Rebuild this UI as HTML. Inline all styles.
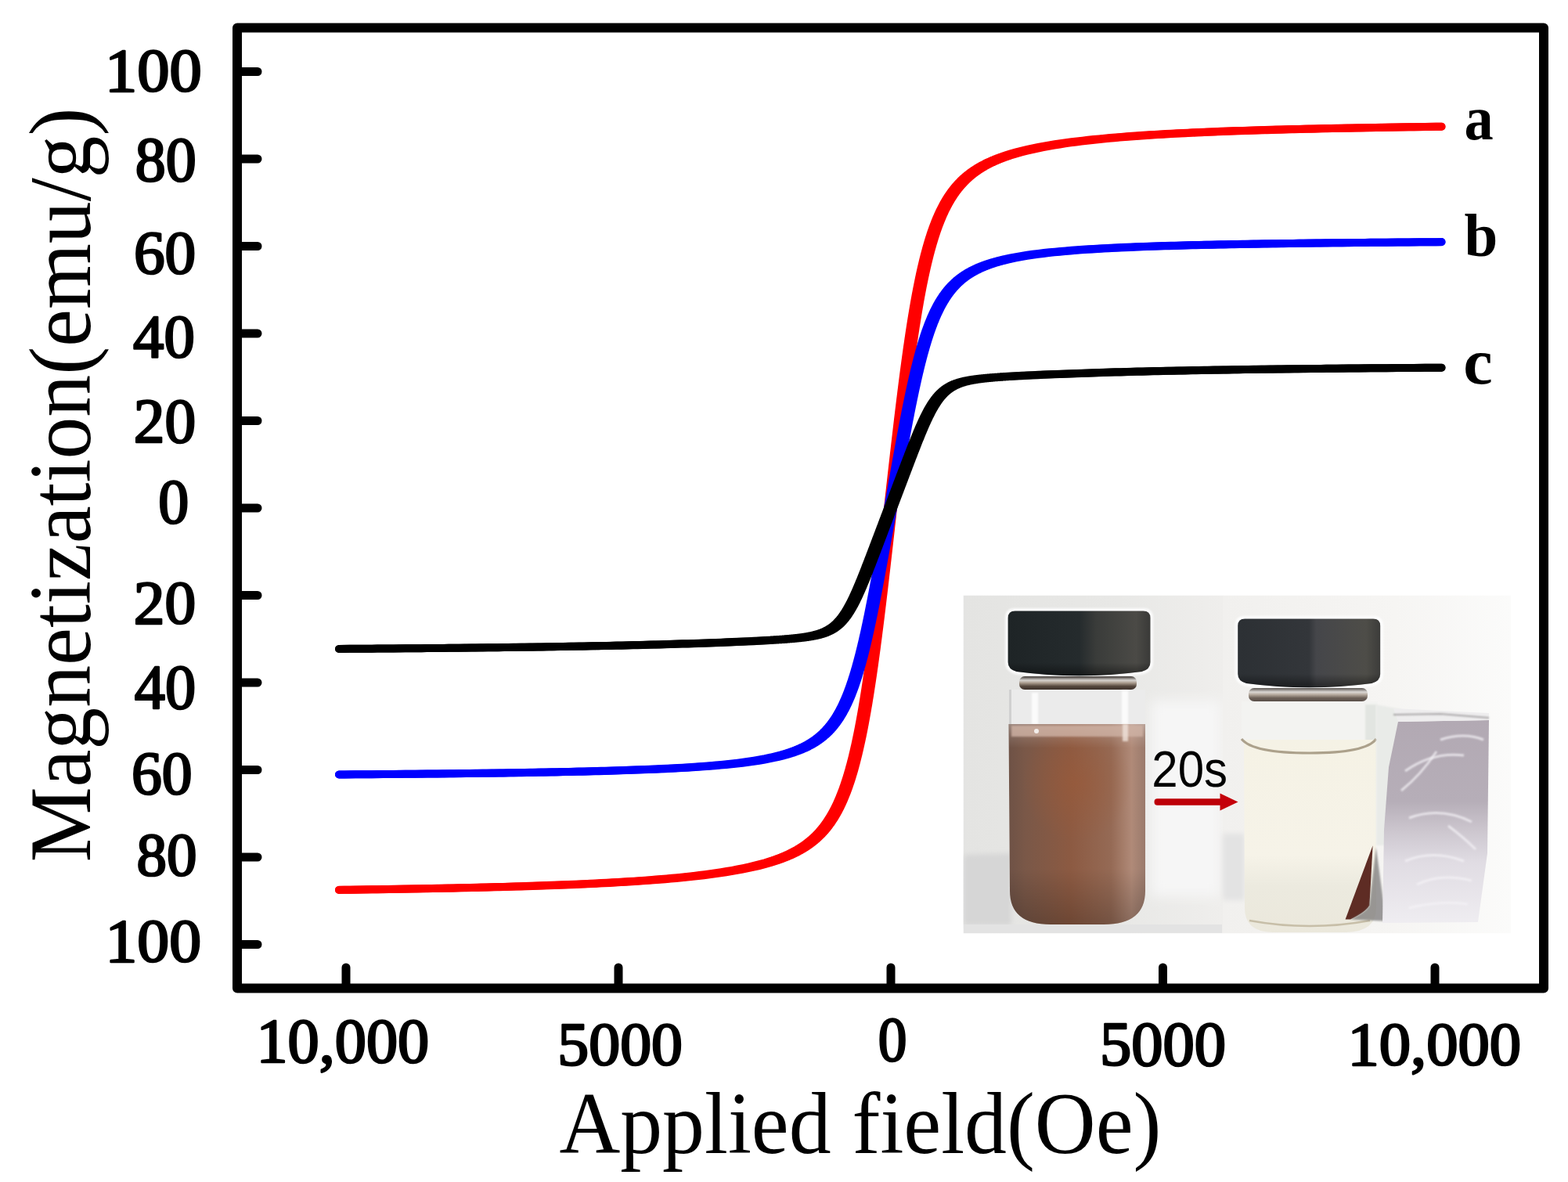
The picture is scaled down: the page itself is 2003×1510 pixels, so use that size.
<!DOCTYPE html><html><head><meta charset="utf-8"><title>Magnetization curves</title><style>html,body{margin:0;padding:0;background:#fff;}svg{display:block}</style></head><body>
<svg width="2003" height="1510" viewBox="0 0 2003 1510">
<defs>
<filter id="bl1" x="-50%" y="-50%" width="200%" height="200%"><feGaussianBlur stdDeviation="1.2"/></filter>
<filter id="bl2" x="-50%" y="-50%" width="200%" height="200%"><feGaussianBlur stdDeviation="3"/></filter>
<filter id="bl6" x="-50%" y="-50%" width="200%" height="200%"><feGaussianBlur stdDeviation="8"/></filter>
<linearGradient id="bgL" x1="0" y1="0" x2="1" y2="0">
 <stop offset="0" stop-color="#e4e4e2"/><stop offset="0.6" stop-color="#e8e8e6"/><stop offset="1" stop-color="#efeeec"/></linearGradient>
<linearGradient id="bgR" x1="0" y1="0" x2="1" y2="0">
 <stop offset="0" stop-color="#f1f0ee"/><stop offset="0.6" stop-color="#f6f5f3"/><stop offset="1" stop-color="#fbfbfa"/></linearGradient>
<linearGradient id="cap1" x1="0" y1="0" x2="1" y2="0">
 <stop offset="0" stop-color="#1e2426"/><stop offset="0.5" stop-color="#252b2d"/><stop offset="0.62" stop-color="#3a3c3a"/><stop offset="0.9" stop-color="#4b4a46"/><stop offset="1" stop-color="#3a3a38"/></linearGradient>
<linearGradient id="cap2" x1="0" y1="0" x2="1" y2="0">
 <stop offset="0" stop-color="#2c3034"/><stop offset="0.5" stop-color="#33363a"/><stop offset="0.55" stop-color="#45464a"/><stop offset="0.9" stop-color="#4e4d48"/><stop offset="1" stop-color="#3c3c3a"/></linearGradient>
<linearGradient id="capV" x1="0" y1="0" x2="0" y2="1">
 <stop offset="0" stop-color="#000" stop-opacity="0"/><stop offset="0.8" stop-color="#000" stop-opacity="0"/><stop offset="1" stop-color="#000" stop-opacity="0.45"/></linearGradient>
<linearGradient id="liqH" x1="0" y1="0" x2="1" y2="0">
 <stop offset="0" stop-color="#6e5246"/><stop offset="0.12" stop-color="#7a5848"/><stop offset="0.45" stop-color="#8c5a42"/><stop offset="0.75" stop-color="#956a55"/><stop offset="0.9" stop-color="#b08a78"/><stop offset="1" stop-color="#9a7a6c"/></linearGradient>
<linearGradient id="liqV" x1="0" y1="0" x2="0" y2="1">
 <stop offset="0" stop-color="#fff" stop-opacity="0.3"/><stop offset="0.06" stop-color="#fff" stop-opacity="0.12"/><stop offset="0.12" stop-color="#fff" stop-opacity="0"/><stop offset="0.72" stop-color="#000" stop-opacity="0"/><stop offset="1" stop-color="#000" stop-opacity="0.22"/></linearGradient>
<radialGradient id="liqO" cx="0.5" cy="0.5" r="0.5">
 <stop offset="0" stop-color="#9c5a38" stop-opacity="0.55"/><stop offset="1" stop-color="#9c5a38" stop-opacity="0"/></radialGradient>
<linearGradient id="liq2" x1="0" y1="0" x2="0" y2="1">
 <stop offset="0" stop-color="#f5f2e5"/><stop offset="0.6" stop-color="#f6f3e8"/><stop offset="0.76" stop-color="#eceadf"/><stop offset="1" stop-color="#ebe8dc"/></linearGradient>
<linearGradient id="foil" x1="0" y1="0" x2="0" y2="1">
 <stop offset="0" stop-color="#b2a9b3"/><stop offset="0.4" stop-color="#b6aeb8"/><stop offset="0.55" stop-color="#cdc7cf"/><stop offset="0.7" stop-color="#e0dce3"/><stop offset="1" stop-color="#efedf1"/></linearGradient>
<linearGradient id="ring" x1="0" y1="0" x2="0" y2="1">
 <stop offset="0" stop-color="#3a3430"/><stop offset="0.3" stop-color="#d8d4d0"/><stop offset="0.5" stop-color="#a89a8c"/><stop offset="0.75" stop-color="#54463c"/><stop offset="1" stop-color="#3e322c"/></linearGradient>
</defs>
<clipPath id="phc"><rect x="1230.5" y="760.5" width="700" height="432"/></clipPath>
<g id="photo" clip-path="url(#phc)">
<rect x="1230.5" y="760.5" width="332" height="432" fill="url(#bgL)"/>
<rect x="1470" y="895" width="90" height="250" fill="#f6f6f6" filter="url(#bl6)"/>
<path d="M1231 1092 L1292 1090 L1292 1182 L1231 1182 Z" fill="#d6d6d6" filter="url(#bl2)"/>
<rect x="1231" y="1181" width="330" height="11" fill="#e3e3e3"/>
<rect x="1562" y="760.5" width="368" height="432" fill="url(#bgR)"/>
<rect x="1562" y="1065" width="28" height="85" fill="#e3e3e3" filter="url(#bl2)"/>
<path d="M1287.6 789.6 Q1287.6 780.6 1296.6 780.6 L1460.5 780.6 Q1469.5 780.6 1469.5 789.6 L1469.5 846 Q1469.5 855 1458.5 858 Q1378.55 868.5 1298.6 858 Q1287.6 855 1287.6 846 Z" fill="#fcfcfc" stroke="#fcfcfc" stroke-width="7" filter="url(#bl1)"/>
<path d="M1287.6 789.6 Q1287.6 780.6 1296.6 780.6 L1460.5 780.6 Q1469.5 780.6 1469.5 789.6 L1469.5 846 Q1469.5 855 1458.5 858 Q1378.55 868.5 1298.6 858 Q1287.6 855 1287.6 846 Z" fill="url(#cap1)"/>
<path d="M1287.6 789.6 Q1287.6 780.6 1296.6 780.6 L1460.5 780.6 Q1469.5 780.6 1469.5 789.6 L1469.5 846 Q1469.5 855 1458.5 858 Q1378.55 868.5 1298.6 858 Q1287.6 855 1287.6 846 Z" fill="url(#capV)"/>
<rect x="1302" y="864" width="150" height="17" rx="7" fill="url(#ring)"/>
<rect x="1289" y="881" width="174" height="46" fill="#ebebeb"/>
<rect x="1289" y="881" width="3" height="46" fill="#d0d0d0"/>
<rect x="1318" y="885" width="8" height="40" fill="#fbfbfb" filter="url(#bl1)"/>
<rect x="1433" y="882" width="8" height="45" fill="#fbfbfb" filter="url(#bl1)"/>
<path d="M1288.5 925 L1463 925 L1463 1138 Q1463 1181 1410 1181 L1342 1181 Q1290 1181 1290 1138 Z" fill="url(#liqH)"/>
<ellipse cx="1375" cy="1000" rx="70" ry="75" fill="url(#liqO)"/>
<path d="M1288.5 925 L1463 925 L1463 1138 Q1463 1181 1410 1181 L1342 1181 Q1290 1181 1290 1138 Z" fill="url(#liqV)"/>
<rect x="1292" y="927" width="168" height="14" fill="#cfb2a4" opacity="0.8" filter="url(#bl1)"/>
<rect x="1434" y="925" width="7" height="22" fill="#efe2da" opacity="0.8" filter="url(#bl1)"/>
<circle cx="1324" cy="934" r="3" fill="#fff" opacity="0.8"/>
<text transform="translate(1471.30 1004.90) scale(0.9290 1)" font-family="Liberation Sans, sans-serif" font-weight="normal" font-size="64.61" fill="#000" >20s</text>
<rect x="1474.5" y="1020.3" width="88" height="8.4" rx="4" fill="#bd0008"/>
<path d="M1558.5 1013.5 L1581.5 1024.5 L1558.5 1035.5 Z" fill="#c4000a"/>
<path d="M1581.2 799.6 Q1581.2 790.6 1590.2 790.6 L1754.2 790.6 Q1763.2 790.6 1763.2 799.6 L1763.2 861 Q1763.2 870 1752.2 873 Q1672.2 883.5 1592.2 873 Q1581.2 870 1581.2 861 Z" fill="#ffffff" stroke="#ffffff" stroke-width="7" filter="url(#bl1)"/>
<path d="M1581.2 799.6 Q1581.2 790.6 1590.2 790.6 L1754.2 790.6 Q1763.2 790.6 1763.2 799.6 L1763.2 861 Q1763.2 870 1752.2 873 Q1672.2 883.5 1592.2 873 Q1581.2 870 1581.2 861 Z" fill="url(#cap2)"/>
<path d="M1581.2 799.6 Q1581.2 790.6 1590.2 790.6 L1754.2 790.6 Q1763.2 790.6 1763.2 799.6 L1763.2 861 Q1763.2 870 1752.2 873 Q1672.2 883.5 1592.2 873 Q1581.2 870 1581.2 861 Z" fill="url(#capV)"/>
<rect x="1595" y="879" width="152" height="17" rx="7" fill="url(#ring)" opacity="0.85"/>
<rect x="1586" y="896" width="174" height="50" fill="#f3f3f1"/>
<rect x="1744" y="900" width="14" height="48" fill="#e2e5e1" filter="url(#bl1)"/>
<path d="M1589 945 L1758 945 L1758 1160 Q1758 1190 1720 1191 L1625 1191 Q1590 1190 1590 1160 Z" fill="url(#liq2)"/>
<path d="M1586 944 Q1600 962 1673 962 Q1745 962 1758 944" fill="none" stroke="#9a8c74" stroke-width="3" opacity="0.8"/>
<path d="M1596 1176 Q1673 1190 1750 1176" fill="none" stroke="#b8ad92" stroke-width="2.5" opacity="0.7"/>
<path d="M1753.6 1080.3 Q1735 1130 1718.6 1174.6 L1725 1174.6 Q1745 1165 1749.4 1156.6 Z" fill="#5e2c24"/>
<path d="M1757.8 1082.4 L1749.4 1156.6 Q1745 1165 1725 1174.6 L1770.6 1176.8 Z" fill="#7c7a7a" opacity="0.75" filter="url(#bl1)"/>
<path d="M1758 900 L1790 906 L1786 1080 L1758 1080 Z" fill="#e9ebe8" filter="url(#bl1)"/>
<path d="M1786 922 L1902 920 L1900 1090 L1888 1178 L1766 1179 L1768 1060 L1774 980 Z" fill="url(#foil)"/>
<path d="M1780 905 L1902 911 L1902 920 L1786 922 Z" fill="#eeedee"/>
<path d="M1795 985 Q1830 960 1870 965" fill="none" stroke="#f4f2f6" stroke-width="3" opacity="0.75" filter="url(#bl1)"/>
<path d="M1790 1010 Q1815 990 1835 960" fill="none" stroke="#f4f2f6" stroke-width="3" opacity="0.75" filter="url(#bl1)"/>
<path d="M1800 1045 Q1840 1030 1880 1050" fill="none" stroke="#f4f2f6" stroke-width="3" opacity="0.75" filter="url(#bl1)"/>
<path d="M1850 1055 Q1870 1070 1885 1085" fill="none" stroke="#f4f2f6" stroke-width="3" opacity="0.75" filter="url(#bl1)"/>
<path d="M1795 1100 Q1830 1085 1870 1100" fill="none" stroke="#f4f2f6" stroke-width="3" opacity="0.75" filter="url(#bl1)"/>
<path d="M1810 1130 Q1840 1115 1880 1125" fill="none" stroke="#f4f2f6" stroke-width="3" opacity="0.75" filter="url(#bl1)"/>
<path d="M1800 1160 Q1840 1150 1875 1155" fill="none" stroke="#f4f2f6" stroke-width="3" opacity="0.75" filter="url(#bl1)"/>
<path d="M1840 945 Q1870 935 1895 945" fill="none" stroke="#f4f2f6" stroke-width="3" opacity="0.75" filter="url(#bl1)"/>
<path d="M1780 913 L1840 912 L1902 917" fill="none" stroke="#7a7678" stroke-width="2.2" opacity="0.6" filter="url(#bl1)"/>
</g>
<path d="M433.00 1136.83 L439.97 1136.74 L446.95 1136.64 L453.92 1136.55 L460.90 1136.45 L467.87 1136.35 L474.85 1136.25 L481.82 1136.15 L488.80 1136.04 L495.77 1135.93 L502.75 1135.82 L509.72 1135.71 L516.70 1135.59 L523.67 1135.47 L530.65 1135.35 L537.62 1135.22 L544.59 1135.09 L551.57 1134.96 L558.54 1134.83 L565.52 1134.69 L572.49 1134.54 L579.47 1134.40 L586.44 1134.25 L593.42 1134.09 L600.39 1133.93 L607.37 1133.77 L614.34 1133.60 L621.32 1133.43 L628.29 1133.25 L635.27 1133.07 L642.24 1132.88 L649.22 1132.68 L656.19 1132.48 L663.16 1132.27 L670.14 1132.06 L677.11 1131.83 L684.09 1131.60 L691.06 1131.37 L698.04 1131.12 L705.01 1130.87 L711.99 1130.61 L718.96 1130.33 L725.94 1130.05 L732.91 1129.76 L739.89 1129.45 L746.86 1129.14 L753.84 1128.81 L760.81 1128.47 L767.78 1128.11 L774.76 1127.74 L781.73 1127.36 L788.71 1126.96 L795.68 1126.54 L802.66 1126.10 L809.63 1125.65 L816.61 1125.17 L823.58 1124.67 L830.56 1124.15 L837.53 1123.60 L844.51 1123.02 L851.48 1122.42 L858.46 1121.78 L865.43 1121.11 L872.41 1120.41 L879.38 1119.66 L886.35 1118.88 L893.33 1118.04 L900.30 1117.16 L907.28 1116.23 L914.25 1115.23 L921.23 1114.17 L928.20 1113.04 L935.18 1111.82 L942.15 1110.52 L949.13 1109.11 L956.10 1107.60 L963.08 1105.95 L970.05 1104.15 L977.03 1102.19 L984.00 1100.02 L984.50 1099.86 L985.00 1099.70 L985.50 1099.53 L986.00 1099.36 L986.50 1099.19 L987.00 1099.02 L987.50 1098.85 L988.00 1098.68 L988.50 1098.51 L989.00 1098.33 L989.50 1098.15 L990.00 1097.98 L990.50 1097.80 L991.00 1097.62 L991.50 1097.44 L992.00 1097.25 L992.50 1097.07 L993.00 1096.88 L993.50 1096.69 L994.00 1096.50 L994.50 1096.31 L995.00 1096.12 L995.50 1095.93 L996.00 1095.73 L996.50 1095.53 L997.00 1095.34 L997.50 1095.14 L998.00 1094.93 L998.50 1094.73 L999.00 1094.52 L999.50 1094.32 L1000.00 1094.11 L1000.50 1093.90 L1001.00 1093.69 L1001.50 1093.47 L1002.00 1093.26 L1002.50 1093.04 L1003.00 1092.82 L1003.50 1092.60 L1004.00 1092.37 L1004.50 1092.15 L1005.00 1091.92 L1005.50 1091.69 L1006.00 1091.46 L1006.50 1091.22 L1007.00 1090.99 L1007.50 1090.75 L1008.00 1090.51 L1008.50 1090.27 L1009.00 1090.02 L1009.50 1089.78 L1010.00 1089.53 L1010.50 1089.27 L1011.00 1089.02 L1011.50 1088.76 L1012.00 1088.50 L1012.50 1088.24 L1013.00 1087.98 L1013.50 1087.71 L1014.00 1087.44 L1014.50 1087.17 L1015.00 1086.90 L1015.50 1086.62 L1016.00 1086.34 L1016.50 1086.06 L1017.00 1085.77 L1017.50 1085.49 L1018.00 1085.20 L1018.50 1084.90 L1019.00 1084.60 L1019.50 1084.30 L1020.00 1084.00 L1020.50 1083.69 L1021.00 1083.39 L1021.50 1083.07 L1022.00 1082.76 L1022.50 1082.44 L1023.00 1082.11 L1023.50 1081.79 L1024.00 1081.46 L1024.50 1081.13 L1025.00 1080.79 L1025.50 1080.45 L1026.00 1080.10 L1026.50 1079.76 L1027.00 1079.41 L1027.50 1079.05 L1028.00 1078.69 L1028.50 1078.33 L1029.00 1077.96 L1029.50 1077.59 L1030.00 1077.21 L1030.50 1076.83 L1031.00 1076.45 L1031.50 1076.06 L1032.00 1075.66 L1032.50 1075.26 L1033.00 1074.86 L1033.50 1074.45 L1034.00 1074.04 L1034.50 1073.62 L1035.00 1073.20 L1035.50 1072.77 L1036.00 1072.34 L1036.50 1071.90 L1037.00 1071.46 L1037.50 1071.01 L1038.00 1070.56 L1038.50 1070.10 L1039.00 1069.63 L1039.50 1069.16 L1040.00 1068.69 L1040.50 1068.20 L1041.00 1067.71 L1041.50 1067.22 L1042.00 1066.72 L1042.50 1066.21 L1043.00 1065.69 L1043.50 1065.17 L1044.00 1064.64 L1044.50 1064.11 L1045.00 1063.57 L1045.50 1063.02 L1046.00 1062.46 L1046.50 1061.90 L1047.00 1061.33 L1047.50 1060.75 L1048.00 1060.16 L1048.50 1059.57 L1049.00 1058.97 L1049.50 1058.35 L1050.00 1057.74 L1050.50 1057.11 L1051.00 1056.47 L1051.50 1055.83 L1052.00 1055.17 L1052.50 1054.51 L1053.00 1053.84 L1053.50 1053.16 L1054.00 1052.46 L1054.50 1051.76 L1055.00 1051.05 L1055.50 1050.33 L1056.00 1049.60 L1056.50 1048.85 L1057.00 1048.10 L1057.50 1047.34 L1058.00 1046.56 L1058.50 1045.78 L1059.00 1044.98 L1059.50 1044.17 L1060.00 1043.34 L1060.50 1042.51 L1061.00 1041.66 L1061.50 1040.80 L1062.00 1039.93 L1062.50 1039.05 L1063.00 1038.15 L1063.50 1037.24 L1064.00 1036.31 L1064.50 1035.37 L1065.00 1034.42 L1065.50 1033.45 L1066.00 1032.46 L1066.50 1031.46 L1067.00 1030.45 L1067.50 1029.42 L1068.00 1028.37 L1068.50 1027.31 L1069.00 1026.23 L1069.50 1025.13 L1070.00 1024.02 L1070.50 1022.89 L1071.00 1021.74 L1071.50 1020.58 L1072.00 1019.39 L1072.50 1018.19 L1073.00 1016.96 L1073.50 1015.72 L1074.00 1014.46 L1074.50 1013.18 L1075.00 1011.87 L1075.50 1010.55 L1076.00 1009.21 L1076.50 1007.84 L1077.00 1006.45 L1077.50 1005.04 L1078.00 1003.61 L1078.50 1002.16 L1079.00 1000.68 L1079.50 999.17 L1080.00 997.65 L1080.50 996.10 L1081.00 994.52 L1081.50 992.92 L1082.00 991.29 L1082.50 989.64 L1083.00 987.96 L1083.50 986.25 L1084.00 984.52 L1084.50 982.76 L1085.00 980.97 L1085.50 979.15 L1086.00 977.30 L1086.50 975.43 L1087.00 973.52 L1087.50 971.59 L1088.00 969.62 L1088.50 967.62 L1089.00 965.60 L1089.50 963.54 L1090.00 961.44 L1090.50 959.32 L1091.00 957.16 L1091.50 954.97 L1092.00 952.75 L1092.50 950.49 L1093.00 948.20 L1093.50 945.88 L1094.00 943.52 L1094.50 941.12 L1095.00 938.69 L1095.50 936.23 L1096.00 933.72 L1096.50 931.19 L1097.00 928.61 L1097.50 926.00 L1098.00 923.35 L1098.50 920.66 L1099.00 917.94 L1099.50 915.18 L1100.00 912.38 L1100.50 909.55 L1101.00 906.67 L1101.50 903.76 L1102.00 900.81 L1102.50 897.82 L1103.00 894.80 L1103.50 891.73 L1104.00 888.63 L1104.50 885.49 L1105.00 882.31 L1105.50 879.10 L1106.00 875.84 L1106.50 872.55 L1107.00 869.22 L1107.50 865.86 L1108.00 862.45 L1108.50 859.01 L1109.00 855.54 L1109.50 852.03 L1110.00 848.48 L1110.50 844.90 L1111.00 841.28 L1111.50 837.63 L1112.00 833.94 L1112.50 830.22 L1113.00 826.47 L1113.50 822.69 L1114.00 818.87 L1114.50 815.02 L1115.00 811.15 L1115.50 807.24 L1116.00 803.30 L1116.50 799.34 L1117.00 795.34 L1117.50 791.33 L1118.00 787.28 L1118.50 783.21 L1119.00 779.12 L1119.50 775.00 L1120.00 770.86 L1120.50 766.69 L1121.00 762.51 L1121.50 758.31 L1122.00 754.08 L1122.50 749.84 L1123.00 745.58 L1123.50 741.31 L1124.00 737.02 L1124.50 732.71 L1125.00 728.39 L1125.50 724.06 L1126.00 719.72 L1126.50 715.36 L1127.00 711.00 L1127.50 706.63 L1128.00 702.25 L1128.50 697.86 L1129.00 693.46 L1129.50 689.06 L1130.00 684.65 L1130.50 680.24 L1131.00 675.83 L1131.50 671.41 L1132.00 666.99 L1132.50 662.57 L1133.00 658.15 L1133.50 653.72 L1134.00 649.30 L1134.50 644.88 L1135.00 640.45 L1135.50 636.03 L1136.00 631.61 L1136.50 627.19 L1137.00 622.77 L1137.50 618.36 L1138.00 613.95 L1138.50 609.54 L1139.00 605.14 L1139.50 600.74 L1140.00 596.35 L1140.50 591.97 L1141.00 587.60 L1141.50 583.24 L1142.00 578.88 L1142.50 574.54 L1143.00 570.21 L1143.50 565.89 L1144.00 561.58 L1144.50 557.29 L1145.00 553.02 L1145.50 548.76 L1146.00 544.52 L1146.50 540.29 L1147.00 536.09 L1147.50 531.91 L1148.00 527.74 L1148.50 523.60 L1149.00 519.48 L1149.50 515.39 L1150.00 511.32 L1150.50 507.27 L1151.00 503.26 L1151.50 499.26 L1152.00 495.30 L1152.50 491.36 L1153.00 487.45 L1153.50 483.58 L1154.00 479.73 L1154.50 475.91 L1155.00 472.13 L1155.50 468.38 L1156.00 464.66 L1156.50 460.97 L1157.00 457.32 L1157.50 453.70 L1158.00 450.12 L1158.50 446.57 L1159.00 443.06 L1159.50 439.59 L1160.00 436.15 L1160.50 432.74 L1161.00 429.38 L1161.50 426.05 L1162.00 422.76 L1162.50 419.50 L1163.00 416.29 L1163.50 413.11 L1164.00 409.97 L1164.50 406.87 L1165.00 403.80 L1165.50 400.78 L1166.00 397.79 L1166.50 394.84 L1167.00 391.93 L1167.50 389.05 L1168.00 386.22 L1168.50 383.42 L1169.00 380.66 L1169.50 377.94 L1170.00 375.25 L1170.50 372.60 L1171.00 369.99 L1171.50 367.41 L1172.00 364.88 L1172.50 362.37 L1173.00 359.91 L1173.50 357.48 L1174.00 355.08 L1174.50 352.72 L1175.00 350.40 L1175.50 348.11 L1176.00 345.85 L1176.50 343.63 L1177.00 341.44 L1177.50 339.28 L1178.00 337.16 L1178.50 335.06 L1179.00 333.00 L1179.50 330.98 L1180.00 328.98 L1180.50 327.01 L1181.00 325.08 L1181.50 323.17 L1182.00 321.30 L1182.50 319.45 L1183.00 317.63 L1183.50 315.84 L1184.00 314.08 L1184.50 312.35 L1185.00 310.64 L1185.50 308.96 L1186.00 307.31 L1186.50 305.68 L1187.00 304.08 L1187.50 302.50 L1188.00 300.95 L1188.50 299.43 L1189.00 297.92 L1189.50 296.44 L1190.00 294.99 L1190.50 293.56 L1191.00 292.15 L1191.50 290.76 L1192.00 289.39 L1192.50 288.05 L1193.00 286.73 L1193.50 285.42 L1194.00 284.14 L1194.50 282.88 L1195.00 281.64 L1195.50 280.41 L1196.00 279.21 L1196.50 278.02 L1197.00 276.86 L1197.50 275.71 L1198.00 274.58 L1198.50 273.47 L1199.00 272.37 L1199.50 271.29 L1200.00 270.23 L1200.50 269.18 L1201.00 268.15 L1201.50 267.14 L1202.00 266.14 L1202.50 265.15 L1203.00 264.18 L1203.50 263.23 L1204.00 262.29 L1204.50 261.36 L1205.00 260.45 L1205.50 259.55 L1206.00 258.67 L1206.50 257.80 L1207.00 256.94 L1207.50 256.09 L1208.00 255.26 L1208.50 254.43 L1209.00 253.62 L1209.50 252.82 L1210.00 252.04 L1210.50 251.26 L1211.00 250.50 L1211.50 249.75 L1212.00 249.00 L1212.50 248.27 L1213.00 247.55 L1213.50 246.84 L1214.00 246.14 L1214.50 245.44 L1215.00 244.76 L1215.50 244.09 L1216.00 243.43 L1216.50 242.77 L1217.00 242.13 L1217.50 241.49 L1218.00 240.86 L1218.50 240.25 L1219.00 239.63 L1219.50 239.03 L1220.00 238.44 L1220.50 237.85 L1221.00 237.27 L1221.50 236.70 L1222.00 236.14 L1222.50 235.58 L1223.00 235.03 L1223.50 234.49 L1224.00 233.96 L1224.50 233.43 L1225.00 232.91 L1225.50 232.39 L1226.00 231.88 L1226.50 231.38 L1227.00 230.89 L1227.50 230.40 L1228.00 229.91 L1228.50 229.44 L1229.00 228.97 L1229.50 228.50 L1230.00 228.04 L1230.50 227.59 L1231.00 227.14 L1231.50 226.70 L1232.00 226.26 L1232.50 225.83 L1233.00 225.40 L1233.50 224.98 L1234.00 224.56 L1234.50 224.15 L1235.00 223.74 L1235.50 223.34 L1236.00 222.94 L1236.50 222.54 L1237.00 222.15 L1237.50 221.77 L1238.00 221.39 L1238.50 221.01 L1239.00 220.64 L1239.50 220.27 L1240.00 219.91 L1240.50 219.55 L1241.00 219.19 L1241.50 218.84 L1242.00 218.50 L1242.50 218.15 L1243.00 217.81 L1243.50 217.47 L1244.00 217.14 L1244.50 216.81 L1245.00 216.49 L1245.50 216.16 L1246.00 215.84 L1246.50 215.53 L1247.00 215.21 L1247.50 214.91 L1248.00 214.60 L1248.50 214.30 L1249.00 214.00 L1249.50 213.70 L1250.00 213.40 L1250.50 213.11 L1251.00 212.83 L1251.50 212.54 L1252.00 212.26 L1252.50 211.98 L1253.00 211.70 L1253.50 211.43 L1254.00 211.16 L1254.50 210.89 L1255.00 210.62 L1255.50 210.36 L1256.00 210.10 L1256.50 209.84 L1257.00 209.58 L1257.50 209.33 L1258.00 209.07 L1258.50 208.82 L1259.00 208.58 L1259.50 208.33 L1260.00 208.09 L1260.50 207.85 L1261.00 207.61 L1261.50 207.38 L1262.00 207.14 L1262.50 206.91 L1263.00 206.68 L1263.50 206.45 L1264.00 206.23 L1264.50 206.00 L1265.00 205.78 L1265.50 205.56 L1266.00 205.34 L1266.50 205.13 L1267.00 204.91 L1267.50 204.70 L1268.00 204.49 L1268.50 204.28 L1269.00 204.08 L1269.50 203.87 L1270.00 203.67 L1270.50 203.46 L1271.00 203.26 L1271.50 203.07 L1272.00 202.87 L1272.50 202.67 L1273.00 202.48 L1273.50 202.29 L1274.00 202.10 L1274.50 201.91 L1275.00 201.72 L1275.50 201.53 L1276.00 201.35 L1276.50 201.16 L1277.00 200.98 L1277.50 200.80 L1278.00 200.62 L1278.50 200.45 L1279.00 200.27 L1279.50 200.09 L1280.00 199.92 L1280.50 199.75 L1281.00 199.58 L1281.50 199.41 L1282.00 199.24 L1282.50 199.07 L1283.00 198.90 L1283.50 198.74 L1284.00 198.58 L1291.06 196.39 L1298.11 194.40 L1305.17 192.59 L1312.23 190.93 L1319.28 189.40 L1326.34 187.99 L1333.40 186.67 L1340.46 185.45 L1347.51 184.31 L1354.57 183.25 L1361.63 182.25 L1368.68 181.31 L1375.74 180.43 L1382.80 179.59 L1389.85 178.80 L1396.91 178.06 L1403.97 177.35 L1411.03 176.68 L1418.08 176.05 L1425.14 175.44 L1432.20 174.86 L1439.25 174.32 L1446.31 173.79 L1453.37 173.29 L1460.42 172.82 L1467.48 172.36 L1474.54 171.92 L1481.59 171.51 L1488.65 171.11 L1495.71 170.72 L1502.77 170.35 L1509.82 170.00 L1516.88 169.66 L1523.94 169.33 L1530.99 169.02 L1538.05 168.72 L1545.11 168.42 L1552.16 168.14 L1559.22 167.87 L1566.28 167.61 L1573.34 167.36 L1580.39 167.11 L1587.45 166.88 L1594.51 166.65 L1601.56 166.43 L1608.62 166.22 L1615.68 166.01 L1622.73 165.81 L1629.79 165.61 L1636.85 165.42 L1643.91 165.24 L1650.96 165.06 L1658.02 164.89 L1665.08 164.73 L1672.13 164.56 L1679.19 164.40 L1686.25 164.25 L1693.30 164.10 L1700.36 163.96 L1707.42 163.81 L1714.47 163.68 L1721.53 163.54 L1728.59 163.41 L1735.65 163.28 L1742.70 163.16 L1749.76 163.04 L1756.82 162.92 L1763.87 162.80 L1770.93 162.69 L1777.99 162.58 L1785.04 162.47 L1792.10 162.37 L1799.16 162.26 L1806.22 162.16 L1813.27 162.06 L1820.33 161.97 L1827.39 161.87 L1834.44 161.78 L1841.50 161.69" fill="none" stroke="#ff0000" stroke-width="10" stroke-linecap="round" stroke-linejoin="round"/>
<path d="M433.00 1136.92 L440.06 1136.83 L447.13 1136.73 L454.19 1136.64 L461.25 1136.54 L468.32 1136.44 L475.38 1136.34 L482.44 1136.24 L489.51 1136.14 L496.57 1136.03 L503.63 1135.92 L510.70 1135.80 L517.76 1135.69 L524.82 1135.57 L531.89 1135.45 L538.95 1135.32 L546.01 1135.20 L553.08 1135.07 L560.14 1134.93 L567.20 1134.79 L574.27 1134.65 L581.33 1134.51 L588.39 1134.36 L595.46 1134.20 L602.52 1134.05 L609.58 1133.88 L616.65 1133.72 L623.71 1133.54 L630.77 1133.37 L637.84 1133.18 L644.90 1132.99 L651.96 1132.80 L659.03 1132.60 L666.09 1132.39 L673.15 1132.18 L680.22 1131.96 L687.28 1131.73 L694.34 1131.50 L701.41 1131.25 L708.47 1131.00 L715.53 1130.74 L722.59 1130.47 L729.66 1130.18 L736.72 1129.89 L743.78 1129.59 L750.85 1129.28 L757.91 1128.95 L764.97 1128.61 L772.04 1128.26 L779.10 1127.89 L786.16 1127.50 L793.23 1127.10 L800.29 1126.69 L807.35 1126.25 L814.42 1125.79 L821.48 1125.32 L828.54 1124.82 L835.61 1124.29 L842.67 1123.75 L849.73 1123.17 L856.80 1122.57 L863.86 1121.93 L870.92 1121.26 L877.99 1120.55 L885.05 1119.81 L892.11 1119.02 L899.18 1118.18 L906.24 1117.30 L913.30 1116.36 L920.37 1115.36 L927.43 1114.29 L934.49 1113.16 L941.56 1111.93 L948.62 1110.62 L955.68 1109.21 L962.75 1107.68 L969.81 1106.01 L976.87 1104.20 L983.94 1102.21 L991.00 1100.02 L991.50 1099.86 L992.00 1099.70 L992.50 1099.53 L993.00 1099.36 L993.50 1099.19 L994.00 1099.02 L994.50 1098.85 L995.00 1098.68 L995.50 1098.51 L996.00 1098.33 L996.50 1098.15 L997.00 1097.98 L997.50 1097.80 L998.00 1097.62 L998.50 1097.44 L999.00 1097.25 L999.50 1097.07 L1000.00 1096.88 L1000.50 1096.69 L1001.00 1096.50 L1001.50 1096.31 L1002.00 1096.12 L1002.50 1095.93 L1003.00 1095.73 L1003.50 1095.53 L1004.00 1095.34 L1004.50 1095.14 L1005.00 1094.93 L1005.50 1094.73 L1006.00 1094.52 L1006.50 1094.32 L1007.00 1094.11 L1007.50 1093.90 L1008.00 1093.69 L1008.50 1093.47 L1009.00 1093.26 L1009.50 1093.04 L1010.00 1092.82 L1010.50 1092.60 L1011.00 1092.37 L1011.50 1092.15 L1012.00 1091.92 L1012.50 1091.69 L1013.00 1091.46 L1013.50 1091.22 L1014.00 1090.99 L1014.50 1090.75 L1015.00 1090.51 L1015.50 1090.27 L1016.00 1090.02 L1016.50 1089.78 L1017.00 1089.53 L1017.50 1089.27 L1018.00 1089.02 L1018.50 1088.76 L1019.00 1088.50 L1019.50 1088.24 L1020.00 1087.98 L1020.50 1087.71 L1021.00 1087.44 L1021.50 1087.17 L1022.00 1086.90 L1022.50 1086.62 L1023.00 1086.34 L1023.50 1086.06 L1024.00 1085.77 L1024.50 1085.49 L1025.00 1085.20 L1025.50 1084.90 L1026.00 1084.60 L1026.50 1084.30 L1027.00 1084.00 L1027.50 1083.69 L1028.00 1083.39 L1028.50 1083.07 L1029.00 1082.76 L1029.50 1082.44 L1030.00 1082.11 L1030.50 1081.79 L1031.00 1081.46 L1031.50 1081.13 L1032.00 1080.79 L1032.50 1080.45 L1033.00 1080.10 L1033.50 1079.76 L1034.00 1079.41 L1034.50 1079.05 L1035.00 1078.69 L1035.50 1078.33 L1036.00 1077.96 L1036.50 1077.59 L1037.00 1077.21 L1037.50 1076.83 L1038.00 1076.45 L1038.50 1076.06 L1039.00 1075.66 L1039.50 1075.26 L1040.00 1074.86 L1040.50 1074.45 L1041.00 1074.04 L1041.50 1073.62 L1042.00 1073.20 L1042.50 1072.77 L1043.00 1072.34 L1043.50 1071.90 L1044.00 1071.46 L1044.50 1071.01 L1045.00 1070.56 L1045.50 1070.10 L1046.00 1069.63 L1046.50 1069.16 L1047.00 1068.69 L1047.50 1068.20 L1048.00 1067.71 L1048.50 1067.22 L1049.00 1066.72 L1049.50 1066.21 L1050.00 1065.69 L1050.50 1065.17 L1051.00 1064.64 L1051.50 1064.11 L1052.00 1063.57 L1052.50 1063.02 L1053.00 1062.46 L1053.50 1061.90 L1054.00 1061.33 L1054.50 1060.75 L1055.00 1060.16 L1055.50 1059.57 L1056.00 1058.97 L1056.50 1058.35 L1057.00 1057.74 L1057.50 1057.11 L1058.00 1056.47 L1058.50 1055.83 L1059.00 1055.17 L1059.50 1054.51 L1060.00 1053.84 L1060.50 1053.16 L1061.00 1052.46 L1061.50 1051.76 L1062.00 1051.05 L1062.50 1050.33 L1063.00 1049.60 L1063.50 1048.85 L1064.00 1048.10 L1064.50 1047.34 L1065.00 1046.56 L1065.50 1045.78 L1066.00 1044.98 L1066.50 1044.17 L1067.00 1043.34 L1067.50 1042.51 L1068.00 1041.66 L1068.50 1040.80 L1069.00 1039.93 L1069.50 1039.05 L1070.00 1038.15 L1070.50 1037.24 L1071.00 1036.31 L1071.50 1035.37 L1072.00 1034.42 L1072.50 1033.45 L1073.00 1032.46 L1073.50 1031.46 L1074.00 1030.45 L1074.50 1029.42 L1075.00 1028.37 L1075.50 1027.31 L1076.00 1026.23 L1076.50 1025.13 L1077.00 1024.02 L1077.50 1022.89 L1078.00 1021.74 L1078.50 1020.58 L1079.00 1019.39 L1079.50 1018.19 L1080.00 1016.96 L1080.50 1015.72 L1081.00 1014.46 L1081.50 1013.18 L1082.00 1011.87 L1082.50 1010.55 L1083.00 1009.21 L1083.50 1007.84 L1084.00 1006.45 L1084.50 1005.04 L1085.00 1003.61 L1085.50 1002.16 L1086.00 1000.68 L1086.50 999.17 L1087.00 997.65 L1087.50 996.10 L1088.00 994.52 L1088.50 992.92 L1089.00 991.29 L1089.50 989.64 L1090.00 987.96 L1090.50 986.25 L1091.00 984.52 L1091.50 982.76 L1092.00 980.97 L1092.50 979.15 L1093.00 977.30 L1093.50 975.43 L1094.00 973.52 L1094.50 971.59 L1095.00 969.62 L1095.50 967.62 L1096.00 965.60 L1096.50 963.54 L1097.00 961.44 L1097.50 959.32 L1098.00 957.16 L1098.50 954.97 L1099.00 952.75 L1099.50 950.49 L1100.00 948.20 L1100.50 945.88 L1101.00 943.52 L1101.50 941.12 L1102.00 938.69 L1102.50 936.23 L1103.00 933.72 L1103.50 931.19 L1104.00 928.61 L1104.50 926.00 L1105.00 923.35 L1105.50 920.66 L1106.00 917.94 L1106.50 915.18 L1107.00 912.38 L1107.50 909.55 L1108.00 906.67 L1108.50 903.76 L1109.00 900.81 L1109.50 897.82 L1110.00 894.80 L1110.50 891.73 L1111.00 888.63 L1111.50 885.49 L1112.00 882.31 L1112.50 879.10 L1113.00 875.84 L1113.50 872.55 L1114.00 869.22 L1114.50 865.86 L1115.00 862.45 L1115.50 859.01 L1116.00 855.54 L1116.50 852.03 L1117.00 848.48 L1117.50 844.90 L1118.00 841.28 L1118.50 837.63 L1119.00 833.94 L1119.50 830.22 L1120.00 826.47 L1120.50 822.69 L1121.00 818.87 L1121.50 815.02 L1122.00 811.15 L1122.50 807.24 L1123.00 803.30 L1123.50 799.34 L1124.00 795.34 L1124.50 791.33 L1125.00 787.28 L1125.50 783.21 L1126.00 779.12 L1126.50 775.00 L1127.00 770.86 L1127.50 766.69 L1128.00 762.51 L1128.50 758.31 L1129.00 754.08 L1129.50 749.84 L1130.00 745.58 L1130.50 741.31 L1131.00 737.02 L1131.50 732.71 L1132.00 728.39 L1132.50 724.06 L1133.00 719.72 L1133.50 715.36 L1134.00 711.00 L1134.50 706.63 L1135.00 702.25 L1135.50 697.86 L1136.00 693.46 L1136.50 689.06 L1137.00 684.65 L1137.50 680.24 L1138.00 675.83 L1138.50 671.41 L1139.00 666.99 L1139.50 662.57 L1140.00 658.15 L1140.50 653.72 L1141.00 649.30 L1141.50 644.88 L1142.00 640.45 L1142.50 636.03 L1143.00 631.61 L1143.50 627.19 L1144.00 622.77 L1144.50 618.36 L1145.00 613.95 L1145.50 609.54 L1146.00 605.14 L1146.50 600.74 L1147.00 596.35 L1147.50 591.97 L1148.00 587.60 L1148.50 583.24 L1149.00 578.88 L1149.50 574.54 L1150.00 570.21 L1150.50 565.89 L1151.00 561.58 L1151.50 557.29 L1152.00 553.02 L1152.50 548.76 L1153.00 544.52 L1153.50 540.29 L1154.00 536.09 L1154.50 531.91 L1155.00 527.74 L1155.50 523.60 L1156.00 519.48 L1156.50 515.39 L1157.00 511.32 L1157.50 507.27 L1158.00 503.26 L1158.50 499.26 L1159.00 495.30 L1159.50 491.36 L1160.00 487.45 L1160.50 483.58 L1161.00 479.73 L1161.50 475.91 L1162.00 472.13 L1162.50 468.38 L1163.00 464.66 L1163.50 460.97 L1164.00 457.32 L1164.50 453.70 L1165.00 450.12 L1165.50 446.57 L1166.00 443.06 L1166.50 439.59 L1167.00 436.15 L1167.50 432.74 L1168.00 429.38 L1168.50 426.05 L1169.00 422.76 L1169.50 419.50 L1170.00 416.29 L1170.50 413.11 L1171.00 409.97 L1171.50 406.87 L1172.00 403.80 L1172.50 400.78 L1173.00 397.79 L1173.50 394.84 L1174.00 391.93 L1174.50 389.05 L1175.00 386.22 L1175.50 383.42 L1176.00 380.66 L1176.50 377.94 L1177.00 375.25 L1177.50 372.60 L1178.00 369.99 L1178.50 367.41 L1179.00 364.88 L1179.50 362.37 L1180.00 359.91 L1180.50 357.48 L1181.00 355.08 L1181.50 352.72 L1182.00 350.40 L1182.50 348.11 L1183.00 345.85 L1183.50 343.63 L1184.00 341.44 L1184.50 339.28 L1185.00 337.16 L1185.50 335.06 L1186.00 333.00 L1186.50 330.98 L1187.00 328.98 L1187.50 327.01 L1188.00 325.08 L1188.50 323.17 L1189.00 321.30 L1189.50 319.45 L1190.00 317.63 L1190.50 315.84 L1191.00 314.08 L1191.50 312.35 L1192.00 310.64 L1192.50 308.96 L1193.00 307.31 L1193.50 305.68 L1194.00 304.08 L1194.50 302.50 L1195.00 300.95 L1195.50 299.43 L1196.00 297.92 L1196.50 296.44 L1197.00 294.99 L1197.50 293.56 L1198.00 292.15 L1198.50 290.76 L1199.00 289.39 L1199.50 288.05 L1200.00 286.73 L1200.50 285.42 L1201.00 284.14 L1201.50 282.88 L1202.00 281.64 L1202.50 280.41 L1203.00 279.21 L1203.50 278.02 L1204.00 276.86 L1204.50 275.71 L1205.00 274.58 L1205.50 273.47 L1206.00 272.37 L1206.50 271.29 L1207.00 270.23 L1207.50 269.18 L1208.00 268.15 L1208.50 267.14 L1209.00 266.14 L1209.50 265.15 L1210.00 264.18 L1210.50 263.23 L1211.00 262.29 L1211.50 261.36 L1212.00 260.45 L1212.50 259.55 L1213.00 258.67 L1213.50 257.80 L1214.00 256.94 L1214.50 256.09 L1215.00 255.26 L1215.50 254.43 L1216.00 253.62 L1216.50 252.82 L1217.00 252.04 L1217.50 251.26 L1218.00 250.50 L1218.50 249.75 L1219.00 249.00 L1219.50 248.27 L1220.00 247.55 L1220.50 246.84 L1221.00 246.14 L1221.50 245.44 L1222.00 244.76 L1222.50 244.09 L1223.00 243.43 L1223.50 242.77 L1224.00 242.13 L1224.50 241.49 L1225.00 240.86 L1225.50 240.25 L1226.00 239.63 L1226.50 239.03 L1227.00 238.44 L1227.50 237.85 L1228.00 237.27 L1228.50 236.70 L1229.00 236.14 L1229.50 235.58 L1230.00 235.03 L1230.50 234.49 L1231.00 233.96 L1231.50 233.43 L1232.00 232.91 L1232.50 232.39 L1233.00 231.88 L1233.50 231.38 L1234.00 230.89 L1234.50 230.40 L1235.00 229.91 L1235.50 229.44 L1236.00 228.97 L1236.50 228.50 L1237.00 228.04 L1237.50 227.59 L1238.00 227.14 L1238.50 226.70 L1239.00 226.26 L1239.50 225.83 L1240.00 225.40 L1240.50 224.98 L1241.00 224.56 L1241.50 224.15 L1242.00 223.74 L1242.50 223.34 L1243.00 222.94 L1243.50 222.54 L1244.00 222.15 L1244.50 221.77 L1245.00 221.39 L1245.50 221.01 L1246.00 220.64 L1246.50 220.27 L1247.00 219.91 L1247.50 219.55 L1248.00 219.19 L1248.50 218.84 L1249.00 218.50 L1249.50 218.15 L1250.00 217.81 L1250.50 217.47 L1251.00 217.14 L1251.50 216.81 L1252.00 216.49 L1252.50 216.16 L1253.00 215.84 L1253.50 215.53 L1254.00 215.21 L1254.50 214.91 L1255.00 214.60 L1255.50 214.30 L1256.00 214.00 L1256.50 213.70 L1257.00 213.40 L1257.50 213.11 L1258.00 212.83 L1258.50 212.54 L1259.00 212.26 L1259.50 211.98 L1260.00 211.70 L1260.50 211.43 L1261.00 211.16 L1261.50 210.89 L1262.00 210.62 L1262.50 210.36 L1263.00 210.10 L1263.50 209.84 L1264.00 209.58 L1264.50 209.33 L1265.00 209.07 L1265.50 208.82 L1266.00 208.58 L1266.50 208.33 L1267.00 208.09 L1267.50 207.85 L1268.00 207.61 L1268.50 207.38 L1269.00 207.14 L1269.50 206.91 L1270.00 206.68 L1270.50 206.45 L1271.00 206.23 L1271.50 206.00 L1272.00 205.78 L1272.50 205.56 L1273.00 205.34 L1273.50 205.13 L1274.00 204.91 L1274.50 204.70 L1275.00 204.49 L1275.50 204.28 L1276.00 204.08 L1276.50 203.87 L1277.00 203.67 L1277.50 203.46 L1278.00 203.26 L1278.50 203.07 L1279.00 202.87 L1279.50 202.67 L1280.00 202.48 L1280.50 202.29 L1281.00 202.10 L1281.50 201.91 L1282.00 201.72 L1282.50 201.53 L1283.00 201.35 L1283.50 201.16 L1284.00 200.98 L1284.50 200.80 L1285.00 200.62 L1285.50 200.45 L1286.00 200.27 L1286.50 200.09 L1287.00 199.92 L1287.50 199.75 L1288.00 199.58 L1288.50 199.41 L1289.00 199.24 L1289.50 199.07 L1290.00 198.90 L1290.50 198.74 L1291.00 198.58 L1297.97 196.41 L1304.94 194.45 L1311.91 192.66 L1318.87 191.01 L1325.84 189.49 L1332.81 188.09 L1339.78 186.79 L1346.75 185.57 L1353.72 184.44 L1360.68 183.38 L1367.65 182.38 L1374.62 181.45 L1381.59 180.57 L1388.56 179.73 L1395.53 178.95 L1402.49 178.20 L1409.46 177.50 L1416.43 176.83 L1423.40 176.19 L1430.37 175.59 L1437.34 175.01 L1444.30 174.47 L1451.27 173.94 L1458.24 173.44 L1465.21 172.96 L1472.18 172.51 L1479.15 172.07 L1486.11 171.65 L1493.08 171.25 L1500.05 170.87 L1507.02 170.50 L1513.99 170.14 L1520.96 169.80 L1527.92 169.47 L1534.89 169.16 L1541.86 168.85 L1548.83 168.56 L1555.80 168.28 L1562.77 168.00 L1569.73 167.74 L1576.70 167.49 L1583.67 167.24 L1590.64 167.00 L1597.61 166.77 L1604.58 166.55 L1611.54 166.34 L1618.51 166.13 L1625.48 165.93 L1632.45 165.73 L1639.42 165.54 L1646.39 165.36 L1653.35 165.18 L1660.32 165.01 L1667.29 164.84 L1674.26 164.67 L1681.23 164.51 L1688.20 164.36 L1695.16 164.21 L1702.13 164.06 L1709.10 163.92 L1716.07 163.78 L1723.04 163.65 L1730.01 163.51 L1736.97 163.38 L1743.94 163.26 L1750.91 163.14 L1757.88 163.02 L1764.85 162.90 L1771.82 162.79 L1778.78 162.68 L1785.75 162.57 L1792.72 162.46 L1799.69 162.36 L1806.66 162.26 L1813.63 162.16 L1820.59 162.06 L1827.56 161.96 L1834.53 161.87 L1841.50 161.78" fill="none" stroke="#ff0000" stroke-width="10" stroke-linecap="round" stroke-linejoin="round"/>
<path d="M433.00 989.45 L439.97 989.40 L446.95 989.35 L453.92 989.30 L460.90 989.25 L467.87 989.20 L474.85 989.14 L481.82 989.09 L488.80 989.03 L495.77 988.98 L502.75 988.92 L509.72 988.86 L516.70 988.80 L523.67 988.74 L530.65 988.67 L537.62 988.61 L544.59 988.54 L551.57 988.47 L558.54 988.40 L565.52 988.33 L572.49 988.25 L579.47 988.17 L586.44 988.10 L593.42 988.02 L600.39 987.93 L607.37 987.85 L614.34 987.76 L621.32 987.67 L628.29 987.57 L635.27 987.48 L642.24 987.38 L649.22 987.28 L656.19 987.17 L663.16 987.06 L670.14 986.95 L677.11 986.83 L684.09 986.71 L691.06 986.59 L698.04 986.46 L705.01 986.33 L711.99 986.19 L718.96 986.05 L725.94 985.90 L732.91 985.74 L739.89 985.58 L746.86 985.42 L753.84 985.24 L760.81 985.06 L767.78 984.87 L774.76 984.68 L781.73 984.47 L788.71 984.25 L795.68 984.03 L802.66 983.79 L809.63 983.54 L816.61 983.28 L823.58 983.01 L830.56 982.72 L837.53 982.42 L844.51 982.10 L851.48 981.76 L858.46 981.40 L865.43 981.02 L872.41 980.62 L879.38 980.19 L886.35 979.73 L893.33 979.24 L900.30 978.71 L907.28 978.15 L914.25 977.55 L921.23 976.90 L928.20 976.20 L935.18 975.44 L942.15 974.62 L949.13 973.72 L956.10 972.74 L963.08 971.66 L970.05 970.48 L977.03 969.17 L984.00 967.70 L984.50 967.59 L985.00 967.48 L985.50 967.37 L986.00 967.25 L986.50 967.14 L987.00 967.02 L987.50 966.91 L988.00 966.79 L988.50 966.67 L989.00 966.55 L989.50 966.43 L990.00 966.31 L990.50 966.19 L991.00 966.06 L991.50 965.94 L992.00 965.81 L992.50 965.68 L993.00 965.56 L993.50 965.43 L994.00 965.30 L994.50 965.16 L995.00 965.03 L995.50 964.90 L996.00 964.76 L996.50 964.63 L997.00 964.49 L997.50 964.35 L998.00 964.21 L998.50 964.07 L999.00 963.93 L999.50 963.78 L1000.00 963.64 L1000.50 963.49 L1001.00 963.34 L1001.50 963.19 L1002.00 963.04 L1002.50 962.89 L1003.00 962.74 L1003.50 962.58 L1004.00 962.43 L1004.50 962.27 L1005.00 962.11 L1005.50 961.95 L1006.00 961.78 L1006.50 961.62 L1007.00 961.45 L1007.50 961.29 L1008.00 961.12 L1008.50 960.95 L1009.00 960.77 L1009.50 960.60 L1010.00 960.42 L1010.50 960.25 L1011.00 960.07 L1011.50 959.89 L1012.00 959.70 L1012.50 959.52 L1013.00 959.33 L1013.50 959.14 L1014.00 958.95 L1014.50 958.76 L1015.00 958.56 L1015.50 958.36 L1016.00 958.16 L1016.50 957.96 L1017.00 957.76 L1017.50 957.55 L1018.00 957.35 L1018.50 957.13 L1019.00 956.92 L1019.50 956.71 L1020.00 956.49 L1020.50 956.27 L1021.00 956.05 L1021.50 955.82 L1022.00 955.60 L1022.50 955.37 L1023.00 955.13 L1023.50 954.90 L1024.00 954.66 L1024.50 954.42 L1025.00 954.18 L1025.50 953.93 L1026.00 953.68 L1026.50 953.43 L1027.00 953.17 L1027.50 952.91 L1028.00 952.65 L1028.50 952.39 L1029.00 952.12 L1029.50 951.85 L1030.00 951.57 L1030.50 951.30 L1031.00 951.02 L1031.50 950.73 L1032.00 950.44 L1032.50 950.15 L1033.00 949.86 L1033.50 949.56 L1034.00 949.25 L1034.50 948.95 L1035.00 948.64 L1035.50 948.32 L1036.00 948.00 L1036.50 947.68 L1037.00 947.35 L1037.50 947.02 L1038.00 946.69 L1038.50 946.35 L1039.00 946.00 L1039.50 945.65 L1040.00 945.30 L1040.50 944.94 L1041.00 944.57 L1041.50 944.21 L1042.00 943.83 L1042.50 943.45 L1043.00 943.07 L1043.50 942.68 L1044.00 942.28 L1044.50 941.88 L1045.00 941.48 L1045.50 941.07 L1046.00 940.65 L1046.50 940.23 L1047.00 939.80 L1047.50 939.36 L1048.00 938.92 L1048.50 938.47 L1049.00 938.02 L1049.50 937.55 L1050.00 937.09 L1050.50 936.61 L1051.00 936.13 L1051.50 935.64 L1052.00 935.14 L1052.50 934.64 L1053.00 934.13 L1053.50 933.61 L1054.00 933.08 L1054.50 932.55 L1055.00 932.01 L1055.50 931.46 L1056.00 930.90 L1056.50 930.33 L1057.00 929.75 L1057.50 929.17 L1058.00 928.57 L1058.50 927.97 L1059.00 927.35 L1059.50 926.73 L1060.00 926.10 L1060.50 925.46 L1061.00 924.80 L1061.50 924.14 L1062.00 923.47 L1062.50 922.78 L1063.00 922.09 L1063.50 921.38 L1064.00 920.67 L1064.50 919.94 L1065.00 919.20 L1065.50 918.45 L1066.00 917.68 L1066.50 916.91 L1067.00 916.12 L1067.50 915.32 L1068.00 914.50 L1068.50 913.68 L1069.00 912.84 L1069.50 911.98 L1070.00 911.12 L1070.50 910.23 L1071.00 909.34 L1071.50 908.43 L1072.00 907.50 L1072.50 906.56 L1073.00 905.61 L1073.50 904.64 L1074.00 903.65 L1074.50 902.65 L1075.00 901.63 L1075.50 900.59 L1076.00 899.54 L1076.50 898.47 L1077.00 897.39 L1077.50 896.28 L1078.00 895.16 L1078.50 894.03 L1079.00 892.87 L1079.50 891.69 L1080.00 890.50 L1080.50 889.29 L1081.00 888.06 L1081.50 886.81 L1082.00 885.54 L1082.50 884.25 L1083.00 882.94 L1083.50 881.61 L1084.00 880.26 L1084.50 878.89 L1085.00 877.49 L1085.50 876.08 L1086.00 874.65 L1086.50 873.19 L1087.00 871.72 L1087.50 870.22 L1088.00 868.70 L1088.50 867.15 L1089.00 865.59 L1089.50 864.00 L1090.00 862.39 L1090.50 860.76 L1091.00 859.10 L1091.50 857.43 L1092.00 855.72 L1092.50 854.00 L1093.00 852.25 L1093.50 850.48 L1094.00 848.69 L1094.50 846.87 L1095.00 845.03 L1095.50 843.17 L1096.00 841.28 L1096.50 839.37 L1097.00 837.44 L1097.50 835.49 L1098.00 833.51 L1098.50 831.50 L1099.00 829.48 L1099.50 827.43 L1100.00 825.36 L1100.50 823.27 L1101.00 821.15 L1101.50 819.02 L1102.00 816.86 L1102.50 814.68 L1103.00 812.47 L1103.50 810.25 L1104.00 808.00 L1104.50 805.74 L1105.00 803.45 L1105.50 801.14 L1106.00 798.82 L1106.50 796.47 L1107.00 794.10 L1107.50 791.72 L1108.00 789.32 L1108.50 786.90 L1109.00 784.46 L1109.50 782.00 L1110.00 779.53 L1110.50 777.04 L1111.00 774.53 L1111.50 772.01 L1112.00 769.47 L1112.50 766.92 L1113.00 764.35 L1113.50 761.77 L1114.00 759.18 L1114.50 756.57 L1115.00 753.95 L1115.50 751.32 L1116.00 748.67 L1116.50 746.02 L1117.00 743.35 L1117.50 740.68 L1118.00 737.99 L1118.50 735.30 L1119.00 732.59 L1119.50 729.88 L1120.00 727.16 L1120.50 724.43 L1121.00 721.70 L1121.50 718.96 L1122.00 716.21 L1122.50 713.45 L1123.00 710.70 L1123.50 707.93 L1124.00 705.16 L1124.50 702.39 L1125.00 699.61 L1125.50 696.83 L1126.00 694.05 L1126.50 691.27 L1127.00 688.48 L1127.50 685.69 L1128.00 682.89 L1128.50 680.10 L1129.00 677.30 L1129.50 674.50 L1130.00 671.71 L1130.50 668.91 L1131.00 666.11 L1131.50 663.31 L1132.00 660.51 L1132.50 657.70 L1133.00 654.90 L1133.50 652.10 L1134.00 649.30 L1134.50 646.50 L1135.00 643.70 L1135.50 640.90 L1136.00 638.09 L1136.50 635.29 L1137.00 632.49 L1137.50 629.69 L1138.00 626.89 L1138.50 624.10 L1139.00 621.30 L1139.50 618.50 L1140.00 615.71 L1140.50 612.91 L1141.00 610.12 L1141.50 607.33 L1142.00 604.55 L1142.50 601.77 L1143.00 598.99 L1143.50 596.21 L1144.00 593.44 L1144.50 590.67 L1145.00 587.90 L1145.50 585.15 L1146.00 582.39 L1146.50 579.64 L1147.00 576.90 L1147.50 574.17 L1148.00 571.44 L1148.50 568.72 L1149.00 566.01 L1149.50 563.30 L1150.00 560.61 L1150.50 557.92 L1151.00 555.25 L1151.50 552.58 L1152.00 549.93 L1152.50 547.28 L1153.00 544.65 L1153.50 542.03 L1154.00 539.42 L1154.50 536.83 L1155.00 534.25 L1155.50 531.68 L1156.00 529.13 L1156.50 526.59 L1157.00 524.07 L1157.50 521.56 L1158.00 519.07 L1158.50 516.60 L1159.00 514.14 L1159.50 511.70 L1160.00 509.28 L1160.50 506.88 L1161.00 504.50 L1161.50 502.13 L1162.00 499.78 L1162.50 497.46 L1163.00 495.15 L1163.50 492.86 L1164.00 490.60 L1164.50 488.35 L1165.00 486.13 L1165.50 483.92 L1166.00 481.74 L1166.50 479.58 L1167.00 477.45 L1167.50 475.33 L1168.00 473.24 L1168.50 471.17 L1169.00 469.12 L1169.50 467.10 L1170.00 465.09 L1170.50 463.11 L1171.00 461.16 L1171.50 459.23 L1172.00 457.32 L1172.50 455.43 L1173.00 453.57 L1173.50 451.73 L1174.00 449.91 L1174.50 448.12 L1175.00 446.35 L1175.50 444.60 L1176.00 442.88 L1176.50 441.17 L1177.00 439.50 L1177.50 437.84 L1178.00 436.21 L1178.50 434.60 L1179.00 433.01 L1179.50 431.45 L1180.00 429.90 L1180.50 428.38 L1181.00 426.88 L1181.50 425.41 L1182.00 423.95 L1182.50 422.52 L1183.00 421.11 L1183.50 419.71 L1184.00 418.34 L1184.50 416.99 L1185.00 415.66 L1185.50 414.35 L1186.00 413.06 L1186.50 411.79 L1187.00 410.54 L1187.50 409.31 L1188.00 408.10 L1188.50 406.91 L1189.00 405.73 L1189.50 404.57 L1190.00 403.44 L1190.50 402.32 L1191.00 401.21 L1191.50 400.13 L1192.00 399.06 L1192.50 398.01 L1193.00 396.97 L1193.50 395.95 L1194.00 394.95 L1194.50 393.96 L1195.00 392.99 L1195.50 392.04 L1196.00 391.10 L1196.50 390.17 L1197.00 389.26 L1197.50 388.37 L1198.00 387.48 L1198.50 386.62 L1199.00 385.76 L1199.50 384.92 L1200.00 384.10 L1200.50 383.28 L1201.00 382.48 L1201.50 381.69 L1202.00 380.92 L1202.50 380.15 L1203.00 379.40 L1203.50 378.66 L1204.00 377.93 L1204.50 377.22 L1205.00 376.51 L1205.50 375.82 L1206.00 375.13 L1206.50 374.46 L1207.00 373.80 L1207.50 373.14 L1208.00 372.50 L1208.50 371.87 L1209.00 371.25 L1209.50 370.63 L1210.00 370.03 L1210.50 369.43 L1211.00 368.85 L1211.50 368.27 L1212.00 367.70 L1212.50 367.14 L1213.00 366.59 L1213.50 366.05 L1214.00 365.52 L1214.50 364.99 L1215.00 364.47 L1215.50 363.96 L1216.00 363.46 L1216.50 362.96 L1217.00 362.47 L1217.50 361.99 L1218.00 361.51 L1218.50 361.05 L1219.00 360.58 L1219.50 360.13 L1220.00 359.68 L1220.50 359.24 L1221.00 358.80 L1221.50 358.37 L1222.00 357.95 L1222.50 357.53 L1223.00 357.12 L1223.50 356.72 L1224.00 356.32 L1224.50 355.92 L1225.00 355.53 L1225.50 355.15 L1226.00 354.77 L1226.50 354.39 L1227.00 354.03 L1227.50 353.66 L1228.00 353.30 L1228.50 352.95 L1229.00 352.60 L1229.50 352.25 L1230.00 351.91 L1230.50 351.58 L1231.00 351.25 L1231.50 350.92 L1232.00 350.60 L1232.50 350.28 L1233.00 349.96 L1233.50 349.65 L1234.00 349.35 L1234.50 349.04 L1235.00 348.74 L1235.50 348.45 L1236.00 348.16 L1236.50 347.87 L1237.00 347.58 L1237.50 347.30 L1238.00 347.03 L1238.50 346.75 L1239.00 346.48 L1239.50 346.21 L1240.00 345.95 L1240.50 345.69 L1241.00 345.43 L1241.50 345.17 L1242.00 344.92 L1242.50 344.67 L1243.00 344.42 L1243.50 344.18 L1244.00 343.94 L1244.50 343.70 L1245.00 343.47 L1245.50 343.23 L1246.00 343.00 L1246.50 342.78 L1247.00 342.55 L1247.50 342.33 L1248.00 342.11 L1248.50 341.89 L1249.00 341.68 L1249.50 341.47 L1250.00 341.25 L1250.50 341.05 L1251.00 340.84 L1251.50 340.64 L1252.00 340.44 L1252.50 340.24 L1253.00 340.04 L1253.50 339.84 L1254.00 339.65 L1254.50 339.46 L1255.00 339.27 L1255.50 339.08 L1256.00 338.90 L1256.50 338.71 L1257.00 338.53 L1257.50 338.35 L1258.00 338.18 L1258.50 338.00 L1259.00 337.83 L1259.50 337.65 L1260.00 337.48 L1260.50 337.31 L1261.00 337.15 L1261.50 336.98 L1262.00 336.82 L1262.50 336.65 L1263.00 336.49 L1263.50 336.33 L1264.00 336.17 L1264.50 336.02 L1265.00 335.86 L1265.50 335.71 L1266.00 335.56 L1266.50 335.41 L1267.00 335.26 L1267.50 335.11 L1268.00 334.96 L1268.50 334.82 L1269.00 334.67 L1269.50 334.53 L1270.00 334.39 L1270.50 334.25 L1271.00 334.11 L1271.50 333.97 L1272.00 333.84 L1272.50 333.70 L1273.00 333.57 L1273.50 333.44 L1274.00 333.30 L1274.50 333.17 L1275.00 333.04 L1275.50 332.92 L1276.00 332.79 L1276.50 332.66 L1277.00 332.54 L1277.50 332.41 L1278.00 332.29 L1278.50 332.17 L1279.00 332.05 L1279.50 331.93 L1280.00 331.81 L1280.50 331.69 L1281.00 331.58 L1281.50 331.46 L1282.00 331.35 L1282.50 331.23 L1283.00 331.12 L1283.50 331.01 L1284.00 330.90 L1291.06 329.42 L1298.11 328.09 L1305.17 326.90 L1312.23 325.81 L1319.28 324.82 L1326.34 323.92 L1333.40 323.09 L1340.46 322.33 L1347.51 321.63 L1354.57 320.98 L1361.63 320.37 L1368.68 319.81 L1375.74 319.29 L1382.80 318.80 L1389.85 318.34 L1396.91 317.91 L1403.97 317.50 L1411.03 317.12 L1418.08 316.76 L1425.14 316.43 L1432.20 316.10 L1439.25 315.80 L1446.31 315.51 L1453.37 315.24 L1460.42 314.98 L1467.48 314.73 L1474.54 314.50 L1481.59 314.27 L1488.65 314.06 L1495.71 313.85 L1502.77 313.66 L1509.82 313.47 L1516.88 313.29 L1523.94 313.12 L1530.99 312.95 L1538.05 312.79 L1545.11 312.64 L1552.16 312.49 L1559.22 312.35 L1566.28 312.21 L1573.34 312.08 L1580.39 311.95 L1587.45 311.82 L1594.51 311.70 L1601.56 311.59 L1608.62 311.48 L1615.68 311.37 L1622.73 311.26 L1629.79 311.16 L1636.85 311.06 L1643.91 310.97 L1650.96 310.88 L1658.02 310.79 L1665.08 310.70 L1672.13 310.61 L1679.19 310.53 L1686.25 310.45 L1693.30 310.37 L1700.36 310.30 L1707.42 310.22 L1714.47 310.15 L1721.53 310.08 L1728.59 310.01 L1735.65 309.94 L1742.70 309.88 L1749.76 309.82 L1756.82 309.75 L1763.87 309.69 L1770.93 309.63 L1777.99 309.58 L1785.04 309.52 L1792.10 309.46 L1799.16 309.41 L1806.22 309.36 L1813.27 309.30 L1820.33 309.25 L1827.39 309.20 L1834.44 309.16 L1841.50 309.11" fill="none" stroke="#0000ff" stroke-width="10" stroke-linecap="round" stroke-linejoin="round"/>
<path d="M433.00 989.49 L440.06 989.45 L447.13 989.40 L454.19 989.35 L461.25 989.30 L468.32 989.25 L475.38 989.19 L482.44 989.14 L489.51 989.08 L496.57 989.03 L503.63 988.97 L510.70 988.91 L517.76 988.85 L524.82 988.79 L531.89 988.72 L538.95 988.66 L546.01 988.59 L553.08 988.52 L560.14 988.45 L567.20 988.38 L574.27 988.31 L581.33 988.23 L588.39 988.15 L595.46 988.07 L602.52 987.99 L609.58 987.91 L616.65 987.82 L623.71 987.73 L630.77 987.64 L637.84 987.54 L644.90 987.44 L651.96 987.34 L659.03 987.24 L666.09 987.13 L673.15 987.02 L680.22 986.90 L687.28 986.78 L694.34 986.66 L701.41 986.53 L708.47 986.40 L715.53 986.26 L722.59 986.12 L729.66 985.97 L736.72 985.82 L743.78 985.66 L750.85 985.49 L757.91 985.32 L764.97 985.14 L772.04 984.95 L779.10 984.75 L786.16 984.55 L793.23 984.33 L800.29 984.11 L807.35 983.87 L814.42 983.62 L821.48 983.37 L828.54 983.09 L835.61 982.80 L842.67 982.50 L849.73 982.18 L856.80 981.84 L863.86 981.48 L870.92 981.10 L877.99 980.70 L885.05 980.27 L892.11 979.81 L899.18 979.32 L906.24 978.80 L913.30 978.23 L920.37 977.63 L927.43 976.98 L934.49 976.28 L941.56 975.51 L948.62 974.68 L955.68 973.78 L962.75 972.79 L969.81 971.71 L976.87 970.51 L983.94 969.18 L991.00 967.70 L991.50 967.59 L992.00 967.48 L992.50 967.37 L993.00 967.25 L993.50 967.14 L994.00 967.02 L994.50 966.91 L995.00 966.79 L995.50 966.67 L996.00 966.55 L996.50 966.43 L997.00 966.31 L997.50 966.19 L998.00 966.06 L998.50 965.94 L999.00 965.81 L999.50 965.68 L1000.00 965.56 L1000.50 965.43 L1001.00 965.30 L1001.50 965.16 L1002.00 965.03 L1002.50 964.90 L1003.00 964.76 L1003.50 964.63 L1004.00 964.49 L1004.50 964.35 L1005.00 964.21 L1005.50 964.07 L1006.00 963.93 L1006.50 963.78 L1007.00 963.64 L1007.50 963.49 L1008.00 963.34 L1008.50 963.19 L1009.00 963.04 L1009.50 962.89 L1010.00 962.74 L1010.50 962.58 L1011.00 962.43 L1011.50 962.27 L1012.00 962.11 L1012.50 961.95 L1013.00 961.78 L1013.50 961.62 L1014.00 961.45 L1014.50 961.29 L1015.00 961.12 L1015.50 960.95 L1016.00 960.77 L1016.50 960.60 L1017.00 960.42 L1017.50 960.25 L1018.00 960.07 L1018.50 959.89 L1019.00 959.70 L1019.50 959.52 L1020.00 959.33 L1020.50 959.14 L1021.00 958.95 L1021.50 958.76 L1022.00 958.56 L1022.50 958.36 L1023.00 958.16 L1023.50 957.96 L1024.00 957.76 L1024.50 957.55 L1025.00 957.35 L1025.50 957.13 L1026.00 956.92 L1026.50 956.71 L1027.00 956.49 L1027.50 956.27 L1028.00 956.05 L1028.50 955.82 L1029.00 955.60 L1029.50 955.37 L1030.00 955.13 L1030.50 954.90 L1031.00 954.66 L1031.50 954.42 L1032.00 954.18 L1032.50 953.93 L1033.00 953.68 L1033.50 953.43 L1034.00 953.17 L1034.50 952.91 L1035.00 952.65 L1035.50 952.39 L1036.00 952.12 L1036.50 951.85 L1037.00 951.57 L1037.50 951.30 L1038.00 951.02 L1038.50 950.73 L1039.00 950.44 L1039.50 950.15 L1040.00 949.86 L1040.50 949.56 L1041.00 949.25 L1041.50 948.95 L1042.00 948.64 L1042.50 948.32 L1043.00 948.00 L1043.50 947.68 L1044.00 947.35 L1044.50 947.02 L1045.00 946.69 L1045.50 946.35 L1046.00 946.00 L1046.50 945.65 L1047.00 945.30 L1047.50 944.94 L1048.00 944.57 L1048.50 944.21 L1049.00 943.83 L1049.50 943.45 L1050.00 943.07 L1050.50 942.68 L1051.00 942.28 L1051.50 941.88 L1052.00 941.48 L1052.50 941.07 L1053.00 940.65 L1053.50 940.23 L1054.00 939.80 L1054.50 939.36 L1055.00 938.92 L1055.50 938.47 L1056.00 938.02 L1056.50 937.55 L1057.00 937.09 L1057.50 936.61 L1058.00 936.13 L1058.50 935.64 L1059.00 935.14 L1059.50 934.64 L1060.00 934.13 L1060.50 933.61 L1061.00 933.08 L1061.50 932.55 L1062.00 932.01 L1062.50 931.46 L1063.00 930.90 L1063.50 930.33 L1064.00 929.75 L1064.50 929.17 L1065.00 928.57 L1065.50 927.97 L1066.00 927.35 L1066.50 926.73 L1067.00 926.10 L1067.50 925.46 L1068.00 924.80 L1068.50 924.14 L1069.00 923.47 L1069.50 922.78 L1070.00 922.09 L1070.50 921.38 L1071.00 920.67 L1071.50 919.94 L1072.00 919.20 L1072.50 918.45 L1073.00 917.68 L1073.50 916.91 L1074.00 916.12 L1074.50 915.32 L1075.00 914.50 L1075.50 913.68 L1076.00 912.84 L1076.50 911.98 L1077.00 911.12 L1077.50 910.23 L1078.00 909.34 L1078.50 908.43 L1079.00 907.50 L1079.50 906.56 L1080.00 905.61 L1080.50 904.64 L1081.00 903.65 L1081.50 902.65 L1082.00 901.63 L1082.50 900.59 L1083.00 899.54 L1083.50 898.47 L1084.00 897.39 L1084.50 896.28 L1085.00 895.16 L1085.50 894.03 L1086.00 892.87 L1086.50 891.69 L1087.00 890.50 L1087.50 889.29 L1088.00 888.06 L1088.50 886.81 L1089.00 885.54 L1089.50 884.25 L1090.00 882.94 L1090.50 881.61 L1091.00 880.26 L1091.50 878.89 L1092.00 877.49 L1092.50 876.08 L1093.00 874.65 L1093.50 873.19 L1094.00 871.72 L1094.50 870.22 L1095.00 868.70 L1095.50 867.15 L1096.00 865.59 L1096.50 864.00 L1097.00 862.39 L1097.50 860.76 L1098.00 859.10 L1098.50 857.43 L1099.00 855.72 L1099.50 854.00 L1100.00 852.25 L1100.50 850.48 L1101.00 848.69 L1101.50 846.87 L1102.00 845.03 L1102.50 843.17 L1103.00 841.28 L1103.50 839.37 L1104.00 837.44 L1104.50 835.49 L1105.00 833.51 L1105.50 831.50 L1106.00 829.48 L1106.50 827.43 L1107.00 825.36 L1107.50 823.27 L1108.00 821.15 L1108.50 819.02 L1109.00 816.86 L1109.50 814.68 L1110.00 812.47 L1110.50 810.25 L1111.00 808.00 L1111.50 805.74 L1112.00 803.45 L1112.50 801.14 L1113.00 798.82 L1113.50 796.47 L1114.00 794.10 L1114.50 791.72 L1115.00 789.32 L1115.50 786.90 L1116.00 784.46 L1116.50 782.00 L1117.00 779.53 L1117.50 777.04 L1118.00 774.53 L1118.50 772.01 L1119.00 769.47 L1119.50 766.92 L1120.00 764.35 L1120.50 761.77 L1121.00 759.18 L1121.50 756.57 L1122.00 753.95 L1122.50 751.32 L1123.00 748.67 L1123.50 746.02 L1124.00 743.35 L1124.50 740.68 L1125.00 737.99 L1125.50 735.30 L1126.00 732.59 L1126.50 729.88 L1127.00 727.16 L1127.50 724.43 L1128.00 721.70 L1128.50 718.96 L1129.00 716.21 L1129.50 713.45 L1130.00 710.70 L1130.50 707.93 L1131.00 705.16 L1131.50 702.39 L1132.00 699.61 L1132.50 696.83 L1133.00 694.05 L1133.50 691.27 L1134.00 688.48 L1134.50 685.69 L1135.00 682.89 L1135.50 680.10 L1136.00 677.30 L1136.50 674.50 L1137.00 671.71 L1137.50 668.91 L1138.00 666.11 L1138.50 663.31 L1139.00 660.51 L1139.50 657.70 L1140.00 654.90 L1140.50 652.10 L1141.00 649.30 L1141.50 646.50 L1142.00 643.70 L1142.50 640.90 L1143.00 638.09 L1143.50 635.29 L1144.00 632.49 L1144.50 629.69 L1145.00 626.89 L1145.50 624.10 L1146.00 621.30 L1146.50 618.50 L1147.00 615.71 L1147.50 612.91 L1148.00 610.12 L1148.50 607.33 L1149.00 604.55 L1149.50 601.77 L1150.00 598.99 L1150.50 596.21 L1151.00 593.44 L1151.50 590.67 L1152.00 587.90 L1152.50 585.15 L1153.00 582.39 L1153.50 579.64 L1154.00 576.90 L1154.50 574.17 L1155.00 571.44 L1155.50 568.72 L1156.00 566.01 L1156.50 563.30 L1157.00 560.61 L1157.50 557.92 L1158.00 555.25 L1158.50 552.58 L1159.00 549.93 L1159.50 547.28 L1160.00 544.65 L1160.50 542.03 L1161.00 539.42 L1161.50 536.83 L1162.00 534.25 L1162.50 531.68 L1163.00 529.13 L1163.50 526.59 L1164.00 524.07 L1164.50 521.56 L1165.00 519.07 L1165.50 516.60 L1166.00 514.14 L1166.50 511.70 L1167.00 509.28 L1167.50 506.88 L1168.00 504.50 L1168.50 502.13 L1169.00 499.78 L1169.50 497.46 L1170.00 495.15 L1170.50 492.86 L1171.00 490.60 L1171.50 488.35 L1172.00 486.13 L1172.50 483.92 L1173.00 481.74 L1173.50 479.58 L1174.00 477.45 L1174.50 475.33 L1175.00 473.24 L1175.50 471.17 L1176.00 469.12 L1176.50 467.10 L1177.00 465.09 L1177.50 463.11 L1178.00 461.16 L1178.50 459.23 L1179.00 457.32 L1179.50 455.43 L1180.00 453.57 L1180.50 451.73 L1181.00 449.91 L1181.50 448.12 L1182.00 446.35 L1182.50 444.60 L1183.00 442.88 L1183.50 441.17 L1184.00 439.50 L1184.50 437.84 L1185.00 436.21 L1185.50 434.60 L1186.00 433.01 L1186.50 431.45 L1187.00 429.90 L1187.50 428.38 L1188.00 426.88 L1188.50 425.41 L1189.00 423.95 L1189.50 422.52 L1190.00 421.11 L1190.50 419.71 L1191.00 418.34 L1191.50 416.99 L1192.00 415.66 L1192.50 414.35 L1193.00 413.06 L1193.50 411.79 L1194.00 410.54 L1194.50 409.31 L1195.00 408.10 L1195.50 406.91 L1196.00 405.73 L1196.50 404.57 L1197.00 403.44 L1197.50 402.32 L1198.00 401.21 L1198.50 400.13 L1199.00 399.06 L1199.50 398.01 L1200.00 396.97 L1200.50 395.95 L1201.00 394.95 L1201.50 393.96 L1202.00 392.99 L1202.50 392.04 L1203.00 391.10 L1203.50 390.17 L1204.00 389.26 L1204.50 388.37 L1205.00 387.48 L1205.50 386.62 L1206.00 385.76 L1206.50 384.92 L1207.00 384.10 L1207.50 383.28 L1208.00 382.48 L1208.50 381.69 L1209.00 380.92 L1209.50 380.15 L1210.00 379.40 L1210.50 378.66 L1211.00 377.93 L1211.50 377.22 L1212.00 376.51 L1212.50 375.82 L1213.00 375.13 L1213.50 374.46 L1214.00 373.80 L1214.50 373.14 L1215.00 372.50 L1215.50 371.87 L1216.00 371.25 L1216.50 370.63 L1217.00 370.03 L1217.50 369.43 L1218.00 368.85 L1218.50 368.27 L1219.00 367.70 L1219.50 367.14 L1220.00 366.59 L1220.50 366.05 L1221.00 365.52 L1221.50 364.99 L1222.00 364.47 L1222.50 363.96 L1223.00 363.46 L1223.50 362.96 L1224.00 362.47 L1224.50 361.99 L1225.00 361.51 L1225.50 361.05 L1226.00 360.58 L1226.50 360.13 L1227.00 359.68 L1227.50 359.24 L1228.00 358.80 L1228.50 358.37 L1229.00 357.95 L1229.50 357.53 L1230.00 357.12 L1230.50 356.72 L1231.00 356.32 L1231.50 355.92 L1232.00 355.53 L1232.50 355.15 L1233.00 354.77 L1233.50 354.39 L1234.00 354.03 L1234.50 353.66 L1235.00 353.30 L1235.50 352.95 L1236.00 352.60 L1236.50 352.25 L1237.00 351.91 L1237.50 351.58 L1238.00 351.25 L1238.50 350.92 L1239.00 350.60 L1239.50 350.28 L1240.00 349.96 L1240.50 349.65 L1241.00 349.35 L1241.50 349.04 L1242.00 348.74 L1242.50 348.45 L1243.00 348.16 L1243.50 347.87 L1244.00 347.58 L1244.50 347.30 L1245.00 347.03 L1245.50 346.75 L1246.00 346.48 L1246.50 346.21 L1247.00 345.95 L1247.50 345.69 L1248.00 345.43 L1248.50 345.17 L1249.00 344.92 L1249.50 344.67 L1250.00 344.42 L1250.50 344.18 L1251.00 343.94 L1251.50 343.70 L1252.00 343.47 L1252.50 343.23 L1253.00 343.00 L1253.50 342.78 L1254.00 342.55 L1254.50 342.33 L1255.00 342.11 L1255.50 341.89 L1256.00 341.68 L1256.50 341.47 L1257.00 341.25 L1257.50 341.05 L1258.00 340.84 L1258.50 340.64 L1259.00 340.44 L1259.50 340.24 L1260.00 340.04 L1260.50 339.84 L1261.00 339.65 L1261.50 339.46 L1262.00 339.27 L1262.50 339.08 L1263.00 338.90 L1263.50 338.71 L1264.00 338.53 L1264.50 338.35 L1265.00 338.18 L1265.50 338.00 L1266.00 337.83 L1266.50 337.65 L1267.00 337.48 L1267.50 337.31 L1268.00 337.15 L1268.50 336.98 L1269.00 336.82 L1269.50 336.65 L1270.00 336.49 L1270.50 336.33 L1271.00 336.17 L1271.50 336.02 L1272.00 335.86 L1272.50 335.71 L1273.00 335.56 L1273.50 335.41 L1274.00 335.26 L1274.50 335.11 L1275.00 334.96 L1275.50 334.82 L1276.00 334.67 L1276.50 334.53 L1277.00 334.39 L1277.50 334.25 L1278.00 334.11 L1278.50 333.97 L1279.00 333.84 L1279.50 333.70 L1280.00 333.57 L1280.50 333.44 L1281.00 333.30 L1281.50 333.17 L1282.00 333.04 L1282.50 332.92 L1283.00 332.79 L1283.50 332.66 L1284.00 332.54 L1284.50 332.41 L1285.00 332.29 L1285.50 332.17 L1286.00 332.05 L1286.50 331.93 L1287.00 331.81 L1287.50 331.69 L1288.00 331.58 L1288.50 331.46 L1289.00 331.35 L1289.50 331.23 L1290.00 331.12 L1290.50 331.01 L1291.00 330.90 L1297.97 329.44 L1304.94 328.12 L1311.91 326.94 L1318.87 325.86 L1325.84 324.88 L1332.81 323.99 L1339.78 323.16 L1346.75 322.40 L1353.72 321.70 L1360.68 321.05 L1367.65 320.45 L1374.62 319.89 L1381.59 319.37 L1388.56 318.88 L1395.53 318.42 L1402.49 317.99 L1409.46 317.59 L1416.43 317.21 L1423.40 316.85 L1430.37 316.51 L1437.34 316.19 L1444.30 315.88 L1451.27 315.60 L1458.24 315.32 L1465.21 315.06 L1472.18 314.81 L1479.15 314.58 L1486.11 314.35 L1493.08 314.14 L1500.05 313.93 L1507.02 313.73 L1513.99 313.54 L1520.96 313.36 L1527.92 313.19 L1534.89 313.02 L1541.86 312.86 L1548.83 312.71 L1555.80 312.56 L1562.77 312.41 L1569.73 312.28 L1576.70 312.14 L1583.67 312.01 L1590.64 311.89 L1597.61 311.77 L1604.58 311.65 L1611.54 311.54 L1618.51 311.43 L1625.48 311.33 L1632.45 311.23 L1639.42 311.13 L1646.39 311.03 L1653.35 310.94 L1660.32 310.85 L1667.29 310.76 L1674.26 310.67 L1681.23 310.59 L1688.20 310.51 L1695.16 310.43 L1702.13 310.35 L1709.10 310.28 L1716.07 310.21 L1723.04 310.13 L1730.01 310.07 L1736.97 310.00 L1743.94 309.93 L1750.91 309.87 L1757.88 309.81 L1764.85 309.74 L1771.82 309.68 L1778.78 309.63 L1785.75 309.57 L1792.72 309.51 L1799.69 309.46 L1806.66 309.41 L1813.63 309.35 L1820.59 309.30 L1827.56 309.25 L1834.53 309.20 L1841.50 309.16" fill="none" stroke="#0000ff" stroke-width="10" stroke-linecap="round" stroke-linejoin="round"/>
<path d="M433.00 828.91 L439.97 828.86 L446.95 828.82 L453.92 828.77 L460.90 828.72 L467.87 828.68 L474.85 828.63 L481.82 828.58 L488.80 828.52 L495.77 828.47 L502.75 828.42 L509.72 828.36 L516.70 828.31 L523.67 828.25 L530.65 828.19 L537.62 828.13 L544.59 828.07 L551.57 828.01 L558.54 827.94 L565.52 827.88 L572.49 827.81 L579.47 827.74 L586.44 827.67 L593.42 827.60 L600.39 827.53 L607.37 827.45 L614.34 827.37 L621.32 827.29 L628.29 827.21 L635.27 827.13 L642.24 827.04 L649.22 826.96 L656.19 826.87 L663.16 826.77 L670.14 826.68 L677.11 826.58 L684.09 826.48 L691.06 826.38 L698.04 826.27 L705.01 826.16 L711.99 826.05 L718.96 825.93 L725.94 825.82 L732.91 825.69 L739.89 825.57 L746.86 825.44 L753.84 825.31 L760.81 825.17 L767.78 825.03 L774.76 824.89 L781.73 824.74 L788.71 824.59 L795.68 824.43 L802.66 824.27 L809.63 824.10 L816.61 823.93 L823.58 823.75 L830.56 823.57 L837.53 823.38 L844.51 823.19 L851.48 822.99 L858.46 822.79 L865.43 822.58 L872.41 822.36 L879.38 822.13 L886.35 821.90 L893.33 821.67 L900.30 821.42 L907.28 821.17 L914.25 820.91 L921.23 820.63 L928.20 820.36 L935.18 820.07 L942.15 819.77 L949.13 819.45 L956.10 819.13 L963.08 818.78 L970.05 818.42 L977.03 818.04 L984.00 817.63 L984.50 817.60 L985.00 817.57 L985.50 817.53 L986.00 817.50 L986.50 817.47 L987.00 817.44 L987.50 817.41 L988.00 817.38 L988.50 817.34 L989.00 817.31 L989.50 817.28 L990.00 817.25 L990.50 817.21 L991.00 817.18 L991.50 817.15 L992.00 817.11 L992.50 817.08 L993.00 817.04 L993.50 817.01 L994.00 816.97 L994.50 816.94 L995.00 816.90 L995.50 816.87 L996.00 816.83 L996.50 816.79 L997.00 816.76 L997.50 816.72 L998.00 816.68 L998.50 816.65 L999.00 816.61 L999.50 816.57 L1000.00 816.53 L1000.50 816.49 L1001.00 816.45 L1001.50 816.41 L1002.00 816.38 L1002.50 816.33 L1003.00 816.29 L1003.50 816.25 L1004.00 816.21 L1004.50 816.17 L1005.00 816.13 L1005.50 816.09 L1006.00 816.04 L1006.50 816.00 L1007.00 815.95 L1007.50 815.91 L1008.00 815.86 L1008.50 815.82 L1009.00 815.77 L1009.50 815.73 L1010.00 815.68 L1010.50 815.63 L1011.00 815.58 L1011.50 815.54 L1012.00 815.49 L1012.50 815.44 L1013.00 815.39 L1013.50 815.34 L1014.00 815.28 L1014.50 815.23 L1015.00 815.18 L1015.50 815.12 L1016.00 815.07 L1016.50 815.01 L1017.00 814.96 L1017.50 814.90 L1018.00 814.84 L1018.50 814.79 L1019.00 814.73 L1019.50 814.67 L1020.00 814.61 L1020.50 814.54 L1021.00 814.48 L1021.50 814.42 L1022.00 814.35 L1022.50 814.29 L1023.00 814.22 L1023.50 814.15 L1024.00 814.08 L1024.50 814.01 L1025.00 813.94 L1025.50 813.87 L1026.00 813.80 L1026.50 813.72 L1027.00 813.65 L1027.50 813.57 L1028.00 813.49 L1028.50 813.41 L1029.00 813.33 L1029.50 813.25 L1030.00 813.16 L1030.50 813.08 L1031.00 812.99 L1031.50 812.90 L1032.00 812.81 L1032.50 812.71 L1033.00 812.62 L1033.50 812.52 L1034.00 812.43 L1034.50 812.32 L1035.00 812.22 L1035.50 812.12 L1036.00 812.01 L1036.50 811.90 L1037.00 811.79 L1037.50 811.68 L1038.00 811.56 L1038.50 811.45 L1039.00 811.32 L1039.50 811.20 L1040.00 811.08 L1040.50 810.95 L1041.00 810.82 L1041.50 810.68 L1042.00 810.54 L1042.50 810.40 L1043.00 810.26 L1043.50 810.11 L1044.00 809.96 L1044.50 809.81 L1045.00 809.65 L1045.50 809.49 L1046.00 809.32 L1046.50 809.15 L1047.00 808.98 L1047.50 808.80 L1048.00 808.62 L1048.50 808.44 L1049.00 808.25 L1049.50 808.05 L1050.00 807.85 L1050.50 807.65 L1051.00 807.44 L1051.50 807.22 L1052.00 807.00 L1052.50 806.78 L1053.00 806.54 L1053.50 806.31 L1054.00 806.06 L1054.50 805.81 L1055.00 805.56 L1055.50 805.30 L1056.00 805.03 L1056.50 804.75 L1057.00 804.47 L1057.50 804.18 L1058.00 803.88 L1058.50 803.58 L1059.00 803.26 L1059.50 802.94 L1060.00 802.61 L1060.50 802.28 L1061.00 801.93 L1061.50 801.58 L1062.00 801.21 L1062.50 800.84 L1063.00 800.46 L1063.50 800.06 L1064.00 799.66 L1064.50 799.25 L1065.00 798.83 L1065.50 798.40 L1066.00 797.95 L1066.50 797.50 L1067.00 797.03 L1067.50 796.56 L1068.00 796.07 L1068.50 795.57 L1069.00 795.06 L1069.50 794.53 L1070.00 794.00 L1070.50 793.45 L1071.00 792.89 L1071.50 792.31 L1072.00 791.73 L1072.50 791.13 L1073.00 790.51 L1073.50 789.89 L1074.00 789.25 L1074.50 788.59 L1075.00 787.93 L1075.50 787.24 L1076.00 786.55 L1076.50 785.84 L1077.00 785.11 L1077.50 784.38 L1078.00 783.62 L1078.50 782.86 L1079.00 782.08 L1079.50 781.28 L1080.00 780.47 L1080.50 779.65 L1081.00 778.81 L1081.50 777.96 L1082.00 777.09 L1082.50 776.21 L1083.00 775.32 L1083.50 774.41 L1084.00 773.49 L1084.50 772.56 L1085.00 771.61 L1085.50 770.65 L1086.00 769.67 L1086.50 768.69 L1087.00 767.69 L1087.50 766.68 L1088.00 765.65 L1088.50 764.61 L1089.00 763.57 L1089.50 762.51 L1090.00 761.44 L1090.50 760.35 L1091.00 759.26 L1091.50 758.16 L1092.00 757.05 L1092.50 755.92 L1093.00 754.79 L1093.50 753.65 L1094.00 752.50 L1094.50 751.34 L1095.00 750.17 L1095.50 748.99 L1096.00 747.81 L1096.50 746.62 L1097.00 745.42 L1097.50 744.21 L1098.00 743.00 L1098.50 741.78 L1099.00 740.56 L1099.50 739.33 L1100.00 738.09 L1100.50 736.85 L1101.00 735.60 L1101.50 734.35 L1102.00 733.09 L1102.50 731.83 L1103.00 730.56 L1103.50 729.30 L1104.00 728.02 L1104.50 726.75 L1105.00 725.47 L1105.50 724.18 L1106.00 722.90 L1106.50 721.61 L1107.00 720.32 L1107.50 719.03 L1108.00 717.73 L1108.50 716.43 L1109.00 715.13 L1109.50 713.83 L1110.00 712.53 L1110.50 711.22 L1111.00 709.92 L1111.50 708.61 L1112.00 707.30 L1112.50 705.99 L1113.00 704.68 L1113.50 703.37 L1114.00 702.05 L1114.50 700.74 L1115.00 699.43 L1115.50 698.11 L1116.00 696.79 L1116.50 695.48 L1117.00 694.16 L1117.50 692.84 L1118.00 691.53 L1118.50 690.21 L1119.00 688.89 L1119.50 687.57 L1120.00 686.25 L1120.50 684.94 L1121.00 683.62 L1121.50 682.30 L1122.00 680.98 L1122.50 679.66 L1123.00 678.34 L1123.50 677.02 L1124.00 675.70 L1124.50 674.38 L1125.00 673.06 L1125.50 671.74 L1126.00 670.42 L1126.50 669.10 L1127.00 667.78 L1127.50 666.46 L1128.00 665.14 L1128.50 663.82 L1129.00 662.50 L1129.50 661.18 L1130.00 659.86 L1130.50 658.54 L1131.00 657.22 L1131.50 655.90 L1132.00 654.58 L1132.50 653.26 L1133.00 651.94 L1133.50 650.62 L1134.00 649.30 L1134.50 647.98 L1135.00 646.66 L1135.50 645.34 L1136.00 644.02 L1136.50 642.70 L1137.00 641.38 L1137.50 640.06 L1138.00 638.74 L1138.50 637.42 L1139.00 636.10 L1139.50 634.78 L1140.00 633.46 L1140.50 632.14 L1141.00 630.82 L1141.50 629.50 L1142.00 628.18 L1142.50 626.86 L1143.00 625.54 L1143.50 624.22 L1144.00 622.90 L1144.50 621.58 L1145.00 620.26 L1145.50 618.94 L1146.00 617.62 L1146.50 616.30 L1147.00 614.98 L1147.50 613.66 L1148.00 612.35 L1148.50 611.03 L1149.00 609.71 L1149.50 608.39 L1150.00 607.07 L1150.50 605.76 L1151.00 604.44 L1151.50 603.12 L1152.00 601.81 L1152.50 600.49 L1153.00 599.17 L1153.50 597.86 L1154.00 596.55 L1154.50 595.23 L1155.00 593.92 L1155.50 592.61 L1156.00 591.30 L1156.50 589.99 L1157.00 588.68 L1157.50 587.38 L1158.00 586.07 L1158.50 584.77 L1159.00 583.47 L1159.50 582.17 L1160.00 580.87 L1160.50 579.57 L1161.00 578.28 L1161.50 576.99 L1162.00 575.70 L1162.50 574.42 L1163.00 573.13 L1163.50 571.85 L1164.00 570.58 L1164.50 569.30 L1165.00 568.04 L1165.50 566.77 L1166.00 565.51 L1166.50 564.25 L1167.00 563.00 L1167.50 561.75 L1168.00 560.51 L1168.50 559.27 L1169.00 558.04 L1169.50 556.82 L1170.00 555.60 L1170.50 554.39 L1171.00 553.18 L1171.50 551.98 L1172.00 550.79 L1172.50 549.61 L1173.00 548.43 L1173.50 547.26 L1174.00 546.10 L1174.50 544.95 L1175.00 543.81 L1175.50 542.68 L1176.00 541.55 L1176.50 540.44 L1177.00 539.34 L1177.50 538.25 L1178.00 537.16 L1178.50 536.09 L1179.00 535.03 L1179.50 533.99 L1180.00 532.95 L1180.50 531.92 L1181.00 530.91 L1181.50 529.91 L1182.00 528.93 L1182.50 527.95 L1183.00 526.99 L1183.50 526.04 L1184.00 525.11 L1184.50 524.19 L1185.00 523.28 L1185.50 522.39 L1186.00 521.51 L1186.50 520.64 L1187.00 519.79 L1187.50 518.95 L1188.00 518.13 L1188.50 517.32 L1189.00 516.52 L1189.50 515.74 L1190.00 514.98 L1190.50 514.22 L1191.00 513.49 L1191.50 512.76 L1192.00 512.05 L1192.50 511.36 L1193.00 510.67 L1193.50 510.01 L1194.00 509.35 L1194.50 508.71 L1195.00 508.09 L1195.50 507.47 L1196.00 506.87 L1196.50 506.29 L1197.00 505.71 L1197.50 505.15 L1198.00 504.60 L1198.50 504.07 L1199.00 503.54 L1199.50 503.03 L1200.00 502.53 L1200.50 502.04 L1201.00 501.57 L1201.50 501.10 L1202.00 500.65 L1202.50 500.20 L1203.00 499.77 L1203.50 499.35 L1204.00 498.94 L1204.50 498.54 L1205.00 498.14 L1205.50 497.76 L1206.00 497.39 L1206.50 497.02 L1207.00 496.67 L1207.50 496.32 L1208.00 495.99 L1208.50 495.66 L1209.00 495.34 L1209.50 495.02 L1210.00 494.72 L1210.50 494.42 L1211.00 494.13 L1211.50 493.85 L1212.00 493.57 L1212.50 493.30 L1213.00 493.04 L1213.50 492.79 L1214.00 492.54 L1214.50 492.29 L1215.00 492.06 L1215.50 491.82 L1216.00 491.60 L1216.50 491.38 L1217.00 491.16 L1217.50 490.95 L1218.00 490.75 L1218.50 490.55 L1219.00 490.35 L1219.50 490.16 L1220.00 489.98 L1220.50 489.80 L1221.00 489.62 L1221.50 489.45 L1222.00 489.28 L1222.50 489.11 L1223.00 488.95 L1223.50 488.79 L1224.00 488.64 L1224.50 488.49 L1225.00 488.34 L1225.50 488.20 L1226.00 488.06 L1226.50 487.92 L1227.00 487.78 L1227.50 487.65 L1228.00 487.52 L1228.50 487.40 L1229.00 487.28 L1229.50 487.15 L1230.00 487.04 L1230.50 486.92 L1231.00 486.81 L1231.50 486.70 L1232.00 486.59 L1232.50 486.48 L1233.00 486.38 L1233.50 486.28 L1234.00 486.17 L1234.50 486.08 L1235.00 485.98 L1235.50 485.89 L1236.00 485.79 L1236.50 485.70 L1237.00 485.61 L1237.50 485.52 L1238.00 485.44 L1238.50 485.35 L1239.00 485.27 L1239.50 485.19 L1240.00 485.11 L1240.50 485.03 L1241.00 484.95 L1241.50 484.88 L1242.00 484.80 L1242.50 484.73 L1243.00 484.66 L1243.50 484.59 L1244.00 484.52 L1244.50 484.45 L1245.00 484.38 L1245.50 484.31 L1246.00 484.25 L1246.50 484.18 L1247.00 484.12 L1247.50 484.06 L1248.00 483.99 L1248.50 483.93 L1249.00 483.87 L1249.50 483.81 L1250.00 483.76 L1250.50 483.70 L1251.00 483.64 L1251.50 483.59 L1252.00 483.53 L1252.50 483.48 L1253.00 483.42 L1253.50 483.37 L1254.00 483.32 L1254.50 483.26 L1255.00 483.21 L1255.50 483.16 L1256.00 483.11 L1256.50 483.06 L1257.00 483.02 L1257.50 482.97 L1258.00 482.92 L1258.50 482.87 L1259.00 482.83 L1259.50 482.78 L1260.00 482.74 L1260.50 482.69 L1261.00 482.65 L1261.50 482.60 L1262.00 482.56 L1262.50 482.51 L1263.00 482.47 L1263.50 482.43 L1264.00 482.39 L1264.50 482.35 L1265.00 482.31 L1265.50 482.27 L1266.00 482.22 L1266.50 482.19 L1267.00 482.15 L1267.50 482.11 L1268.00 482.07 L1268.50 482.03 L1269.00 481.99 L1269.50 481.95 L1270.00 481.92 L1270.50 481.88 L1271.00 481.84 L1271.50 481.81 L1272.00 481.77 L1272.50 481.73 L1273.00 481.70 L1273.50 481.66 L1274.00 481.63 L1274.50 481.59 L1275.00 481.56 L1275.50 481.52 L1276.00 481.49 L1276.50 481.45 L1277.00 481.42 L1277.50 481.39 L1278.00 481.35 L1278.50 481.32 L1279.00 481.29 L1279.50 481.26 L1280.00 481.22 L1280.50 481.19 L1281.00 481.16 L1281.50 481.13 L1282.00 481.10 L1282.50 481.07 L1283.00 481.03 L1283.50 481.00 L1284.00 480.97 L1291.06 480.56 L1298.11 480.17 L1305.17 479.80 L1312.23 479.46 L1319.28 479.13 L1326.34 478.81 L1333.40 478.51 L1340.46 478.22 L1347.51 477.94 L1354.57 477.66 L1361.63 477.40 L1368.68 477.14 L1375.74 476.90 L1382.80 476.66 L1389.85 476.43 L1396.91 476.20 L1403.97 475.98 L1411.03 475.77 L1418.08 475.56 L1425.14 475.36 L1432.20 475.17 L1439.25 474.98 L1446.31 474.80 L1453.37 474.62 L1460.42 474.45 L1467.48 474.28 L1474.54 474.12 L1481.59 473.96 L1488.65 473.81 L1495.71 473.66 L1502.77 473.52 L1509.82 473.38 L1516.88 473.24 L1523.94 473.11 L1530.99 472.98 L1538.05 472.85 L1545.11 472.73 L1552.16 472.61 L1559.22 472.50 L1566.28 472.39 L1573.34 472.28 L1580.39 472.17 L1587.45 472.07 L1594.51 471.97 L1601.56 471.87 L1608.62 471.78 L1615.68 471.68 L1622.73 471.59 L1629.79 471.51 L1636.85 471.42 L1643.91 471.34 L1650.96 471.26 L1658.02 471.18 L1665.08 471.10 L1672.13 471.02 L1679.19 470.95 L1686.25 470.88 L1693.30 470.81 L1700.36 470.74 L1707.42 470.67 L1714.47 470.61 L1721.53 470.55 L1728.59 470.48 L1735.65 470.42 L1742.70 470.36 L1749.76 470.30 L1756.82 470.25 L1763.87 470.19 L1770.93 470.14 L1777.99 470.08 L1785.04 470.03 L1792.10 469.98 L1799.16 469.93 L1806.22 469.88 L1813.27 469.83 L1820.33 469.79 L1827.39 469.74 L1834.44 469.70 L1841.50 469.65" fill="none" stroke="#000000" stroke-width="10" stroke-linecap="round" stroke-linejoin="round"/>
<path d="M433.00 828.95 L440.06 828.91 L447.13 828.86 L454.19 828.82 L461.25 828.77 L468.32 828.72 L475.38 828.67 L482.44 828.62 L489.51 828.57 L496.57 828.52 L503.63 828.47 L510.70 828.41 L517.76 828.36 L524.82 828.30 L531.89 828.24 L538.95 828.18 L546.01 828.12 L553.08 828.06 L560.14 827.99 L567.20 827.93 L574.27 827.86 L581.33 827.79 L588.39 827.72 L595.46 827.65 L602.52 827.58 L609.58 827.50 L616.65 827.43 L623.71 827.35 L630.77 827.27 L637.84 827.18 L644.90 827.10 L651.96 827.01 L659.03 826.92 L666.09 826.83 L673.15 826.73 L680.22 826.63 L687.28 826.53 L694.34 826.43 L701.41 826.33 L708.47 826.22 L715.53 826.11 L722.59 825.99 L729.66 825.87 L736.72 825.75 L743.78 825.63 L750.85 825.50 L757.91 825.36 L764.97 825.23 L772.04 825.09 L779.10 824.94 L786.16 824.80 L793.23 824.64 L800.29 824.48 L807.35 824.32 L814.42 824.15 L821.48 823.98 L828.54 823.81 L835.61 823.62 L842.67 823.43 L849.73 823.24 L856.80 823.04 L863.86 822.83 L870.92 822.62 L877.99 822.40 L885.05 822.18 L892.11 821.94 L899.18 821.71 L906.24 821.46 L913.30 821.20 L920.37 820.94 L927.43 820.67 L934.49 820.38 L941.56 820.09 L948.62 819.79 L955.68 819.47 L962.75 819.14 L969.81 818.80 L976.87 818.43 L983.94 818.04 L991.00 817.63 L991.50 817.60 L992.00 817.57 L992.50 817.53 L993.00 817.50 L993.50 817.47 L994.00 817.44 L994.50 817.41 L995.00 817.38 L995.50 817.34 L996.00 817.31 L996.50 817.28 L997.00 817.25 L997.50 817.21 L998.00 817.18 L998.50 817.15 L999.00 817.11 L999.50 817.08 L1000.00 817.04 L1000.50 817.01 L1001.00 816.97 L1001.50 816.94 L1002.00 816.90 L1002.50 816.87 L1003.00 816.83 L1003.50 816.79 L1004.00 816.76 L1004.50 816.72 L1005.00 816.68 L1005.50 816.65 L1006.00 816.61 L1006.50 816.57 L1007.00 816.53 L1007.50 816.49 L1008.00 816.45 L1008.50 816.41 L1009.00 816.38 L1009.50 816.33 L1010.00 816.29 L1010.50 816.25 L1011.00 816.21 L1011.50 816.17 L1012.00 816.13 L1012.50 816.09 L1013.00 816.04 L1013.50 816.00 L1014.00 815.95 L1014.50 815.91 L1015.00 815.86 L1015.50 815.82 L1016.00 815.77 L1016.50 815.73 L1017.00 815.68 L1017.50 815.63 L1018.00 815.58 L1018.50 815.54 L1019.00 815.49 L1019.50 815.44 L1020.00 815.39 L1020.50 815.34 L1021.00 815.28 L1021.50 815.23 L1022.00 815.18 L1022.50 815.12 L1023.00 815.07 L1023.50 815.01 L1024.00 814.96 L1024.50 814.90 L1025.00 814.84 L1025.50 814.79 L1026.00 814.73 L1026.50 814.67 L1027.00 814.61 L1027.50 814.54 L1028.00 814.48 L1028.50 814.42 L1029.00 814.35 L1029.50 814.29 L1030.00 814.22 L1030.50 814.15 L1031.00 814.08 L1031.50 814.01 L1032.00 813.94 L1032.50 813.87 L1033.00 813.80 L1033.50 813.72 L1034.00 813.65 L1034.50 813.57 L1035.00 813.49 L1035.50 813.41 L1036.00 813.33 L1036.50 813.25 L1037.00 813.16 L1037.50 813.08 L1038.00 812.99 L1038.50 812.90 L1039.00 812.81 L1039.50 812.71 L1040.00 812.62 L1040.50 812.52 L1041.00 812.43 L1041.50 812.32 L1042.00 812.22 L1042.50 812.12 L1043.00 812.01 L1043.50 811.90 L1044.00 811.79 L1044.50 811.68 L1045.00 811.56 L1045.50 811.45 L1046.00 811.32 L1046.50 811.20 L1047.00 811.08 L1047.50 810.95 L1048.00 810.82 L1048.50 810.68 L1049.00 810.54 L1049.50 810.40 L1050.00 810.26 L1050.50 810.11 L1051.00 809.96 L1051.50 809.81 L1052.00 809.65 L1052.50 809.49 L1053.00 809.32 L1053.50 809.15 L1054.00 808.98 L1054.50 808.80 L1055.00 808.62 L1055.50 808.44 L1056.00 808.25 L1056.50 808.05 L1057.00 807.85 L1057.50 807.65 L1058.00 807.44 L1058.50 807.22 L1059.00 807.00 L1059.50 806.78 L1060.00 806.54 L1060.50 806.31 L1061.00 806.06 L1061.50 805.81 L1062.00 805.56 L1062.50 805.30 L1063.00 805.03 L1063.50 804.75 L1064.00 804.47 L1064.50 804.18 L1065.00 803.88 L1065.50 803.58 L1066.00 803.26 L1066.50 802.94 L1067.00 802.61 L1067.50 802.28 L1068.00 801.93 L1068.50 801.58 L1069.00 801.21 L1069.50 800.84 L1070.00 800.46 L1070.50 800.06 L1071.00 799.66 L1071.50 799.25 L1072.00 798.83 L1072.50 798.40 L1073.00 797.95 L1073.50 797.50 L1074.00 797.03 L1074.50 796.56 L1075.00 796.07 L1075.50 795.57 L1076.00 795.06 L1076.50 794.53 L1077.00 794.00 L1077.50 793.45 L1078.00 792.89 L1078.50 792.31 L1079.00 791.73 L1079.50 791.13 L1080.00 790.51 L1080.50 789.89 L1081.00 789.25 L1081.50 788.59 L1082.00 787.93 L1082.50 787.24 L1083.00 786.55 L1083.50 785.84 L1084.00 785.11 L1084.50 784.38 L1085.00 783.62 L1085.50 782.86 L1086.00 782.08 L1086.50 781.28 L1087.00 780.47 L1087.50 779.65 L1088.00 778.81 L1088.50 777.96 L1089.00 777.09 L1089.50 776.21 L1090.00 775.32 L1090.50 774.41 L1091.00 773.49 L1091.50 772.56 L1092.00 771.61 L1092.50 770.65 L1093.00 769.67 L1093.50 768.69 L1094.00 767.69 L1094.50 766.68 L1095.00 765.65 L1095.50 764.61 L1096.00 763.57 L1096.50 762.51 L1097.00 761.44 L1097.50 760.35 L1098.00 759.26 L1098.50 758.16 L1099.00 757.05 L1099.50 755.92 L1100.00 754.79 L1100.50 753.65 L1101.00 752.50 L1101.50 751.34 L1102.00 750.17 L1102.50 748.99 L1103.00 747.81 L1103.50 746.62 L1104.00 745.42 L1104.50 744.21 L1105.00 743.00 L1105.50 741.78 L1106.00 740.56 L1106.50 739.33 L1107.00 738.09 L1107.50 736.85 L1108.00 735.60 L1108.50 734.35 L1109.00 733.09 L1109.50 731.83 L1110.00 730.56 L1110.50 729.30 L1111.00 728.02 L1111.50 726.75 L1112.00 725.47 L1112.50 724.18 L1113.00 722.90 L1113.50 721.61 L1114.00 720.32 L1114.50 719.03 L1115.00 717.73 L1115.50 716.43 L1116.00 715.13 L1116.50 713.83 L1117.00 712.53 L1117.50 711.22 L1118.00 709.92 L1118.50 708.61 L1119.00 707.30 L1119.50 705.99 L1120.00 704.68 L1120.50 703.37 L1121.00 702.05 L1121.50 700.74 L1122.00 699.43 L1122.50 698.11 L1123.00 696.79 L1123.50 695.48 L1124.00 694.16 L1124.50 692.84 L1125.00 691.53 L1125.50 690.21 L1126.00 688.89 L1126.50 687.57 L1127.00 686.25 L1127.50 684.94 L1128.00 683.62 L1128.50 682.30 L1129.00 680.98 L1129.50 679.66 L1130.00 678.34 L1130.50 677.02 L1131.00 675.70 L1131.50 674.38 L1132.00 673.06 L1132.50 671.74 L1133.00 670.42 L1133.50 669.10 L1134.00 667.78 L1134.50 666.46 L1135.00 665.14 L1135.50 663.82 L1136.00 662.50 L1136.50 661.18 L1137.00 659.86 L1137.50 658.54 L1138.00 657.22 L1138.50 655.90 L1139.00 654.58 L1139.50 653.26 L1140.00 651.94 L1140.50 650.62 L1141.00 649.30 L1141.50 647.98 L1142.00 646.66 L1142.50 645.34 L1143.00 644.02 L1143.50 642.70 L1144.00 641.38 L1144.50 640.06 L1145.00 638.74 L1145.50 637.42 L1146.00 636.10 L1146.50 634.78 L1147.00 633.46 L1147.50 632.14 L1148.00 630.82 L1148.50 629.50 L1149.00 628.18 L1149.50 626.86 L1150.00 625.54 L1150.50 624.22 L1151.00 622.90 L1151.50 621.58 L1152.00 620.26 L1152.50 618.94 L1153.00 617.62 L1153.50 616.30 L1154.00 614.98 L1154.50 613.66 L1155.00 612.35 L1155.50 611.03 L1156.00 609.71 L1156.50 608.39 L1157.00 607.07 L1157.50 605.76 L1158.00 604.44 L1158.50 603.12 L1159.00 601.81 L1159.50 600.49 L1160.00 599.17 L1160.50 597.86 L1161.00 596.55 L1161.50 595.23 L1162.00 593.92 L1162.50 592.61 L1163.00 591.30 L1163.50 589.99 L1164.00 588.68 L1164.50 587.38 L1165.00 586.07 L1165.50 584.77 L1166.00 583.47 L1166.50 582.17 L1167.00 580.87 L1167.50 579.57 L1168.00 578.28 L1168.50 576.99 L1169.00 575.70 L1169.50 574.42 L1170.00 573.13 L1170.50 571.85 L1171.00 570.58 L1171.50 569.30 L1172.00 568.04 L1172.50 566.77 L1173.00 565.51 L1173.50 564.25 L1174.00 563.00 L1174.50 561.75 L1175.00 560.51 L1175.50 559.27 L1176.00 558.04 L1176.50 556.82 L1177.00 555.60 L1177.50 554.39 L1178.00 553.18 L1178.50 551.98 L1179.00 550.79 L1179.50 549.61 L1180.00 548.43 L1180.50 547.26 L1181.00 546.10 L1181.50 544.95 L1182.00 543.81 L1182.50 542.68 L1183.00 541.55 L1183.50 540.44 L1184.00 539.34 L1184.50 538.25 L1185.00 537.16 L1185.50 536.09 L1186.00 535.03 L1186.50 533.99 L1187.00 532.95 L1187.50 531.92 L1188.00 530.91 L1188.50 529.91 L1189.00 528.93 L1189.50 527.95 L1190.00 526.99 L1190.50 526.04 L1191.00 525.11 L1191.50 524.19 L1192.00 523.28 L1192.50 522.39 L1193.00 521.51 L1193.50 520.64 L1194.00 519.79 L1194.50 518.95 L1195.00 518.13 L1195.50 517.32 L1196.00 516.52 L1196.50 515.74 L1197.00 514.98 L1197.50 514.22 L1198.00 513.49 L1198.50 512.76 L1199.00 512.05 L1199.50 511.36 L1200.00 510.67 L1200.50 510.01 L1201.00 509.35 L1201.50 508.71 L1202.00 508.09 L1202.50 507.47 L1203.00 506.87 L1203.50 506.29 L1204.00 505.71 L1204.50 505.15 L1205.00 504.60 L1205.50 504.07 L1206.00 503.54 L1206.50 503.03 L1207.00 502.53 L1207.50 502.04 L1208.00 501.57 L1208.50 501.10 L1209.00 500.65 L1209.50 500.20 L1210.00 499.77 L1210.50 499.35 L1211.00 498.94 L1211.50 498.54 L1212.00 498.14 L1212.50 497.76 L1213.00 497.39 L1213.50 497.02 L1214.00 496.67 L1214.50 496.32 L1215.00 495.99 L1215.50 495.66 L1216.00 495.34 L1216.50 495.02 L1217.00 494.72 L1217.50 494.42 L1218.00 494.13 L1218.50 493.85 L1219.00 493.57 L1219.50 493.30 L1220.00 493.04 L1220.50 492.79 L1221.00 492.54 L1221.50 492.29 L1222.00 492.06 L1222.50 491.82 L1223.00 491.60 L1223.50 491.38 L1224.00 491.16 L1224.50 490.95 L1225.00 490.75 L1225.50 490.55 L1226.00 490.35 L1226.50 490.16 L1227.00 489.98 L1227.50 489.80 L1228.00 489.62 L1228.50 489.45 L1229.00 489.28 L1229.50 489.11 L1230.00 488.95 L1230.50 488.79 L1231.00 488.64 L1231.50 488.49 L1232.00 488.34 L1232.50 488.20 L1233.00 488.06 L1233.50 487.92 L1234.00 487.78 L1234.50 487.65 L1235.00 487.52 L1235.50 487.40 L1236.00 487.28 L1236.50 487.15 L1237.00 487.04 L1237.50 486.92 L1238.00 486.81 L1238.50 486.70 L1239.00 486.59 L1239.50 486.48 L1240.00 486.38 L1240.50 486.28 L1241.00 486.17 L1241.50 486.08 L1242.00 485.98 L1242.50 485.89 L1243.00 485.79 L1243.50 485.70 L1244.00 485.61 L1244.50 485.52 L1245.00 485.44 L1245.50 485.35 L1246.00 485.27 L1246.50 485.19 L1247.00 485.11 L1247.50 485.03 L1248.00 484.95 L1248.50 484.88 L1249.00 484.80 L1249.50 484.73 L1250.00 484.66 L1250.50 484.59 L1251.00 484.52 L1251.50 484.45 L1252.00 484.38 L1252.50 484.31 L1253.00 484.25 L1253.50 484.18 L1254.00 484.12 L1254.50 484.06 L1255.00 483.99 L1255.50 483.93 L1256.00 483.87 L1256.50 483.81 L1257.00 483.76 L1257.50 483.70 L1258.00 483.64 L1258.50 483.59 L1259.00 483.53 L1259.50 483.48 L1260.00 483.42 L1260.50 483.37 L1261.00 483.32 L1261.50 483.26 L1262.00 483.21 L1262.50 483.16 L1263.00 483.11 L1263.50 483.06 L1264.00 483.02 L1264.50 482.97 L1265.00 482.92 L1265.50 482.87 L1266.00 482.83 L1266.50 482.78 L1267.00 482.74 L1267.50 482.69 L1268.00 482.65 L1268.50 482.60 L1269.00 482.56 L1269.50 482.51 L1270.00 482.47 L1270.50 482.43 L1271.00 482.39 L1271.50 482.35 L1272.00 482.31 L1272.50 482.27 L1273.00 482.22 L1273.50 482.19 L1274.00 482.15 L1274.50 482.11 L1275.00 482.07 L1275.50 482.03 L1276.00 481.99 L1276.50 481.95 L1277.00 481.92 L1277.50 481.88 L1278.00 481.84 L1278.50 481.81 L1279.00 481.77 L1279.50 481.73 L1280.00 481.70 L1280.50 481.66 L1281.00 481.63 L1281.50 481.59 L1282.00 481.56 L1282.50 481.52 L1283.00 481.49 L1283.50 481.45 L1284.00 481.42 L1284.50 481.39 L1285.00 481.35 L1285.50 481.32 L1286.00 481.29 L1286.50 481.26 L1287.00 481.22 L1287.50 481.19 L1288.00 481.16 L1288.50 481.13 L1289.00 481.10 L1289.50 481.07 L1290.00 481.03 L1290.50 481.00 L1291.00 480.97 L1297.97 480.56 L1304.94 480.18 L1311.91 479.82 L1318.87 479.48 L1325.84 479.15 L1332.81 478.84 L1339.78 478.54 L1346.75 478.25 L1353.72 477.97 L1360.68 477.70 L1367.65 477.44 L1374.62 477.18 L1381.59 476.94 L1388.56 476.70 L1395.53 476.47 L1402.49 476.24 L1409.46 476.03 L1416.43 475.82 L1423.40 475.61 L1430.37 475.41 L1437.34 475.22 L1444.30 475.03 L1451.27 474.85 L1458.24 474.67 L1465.21 474.50 L1472.18 474.34 L1479.15 474.17 L1486.11 474.02 L1493.08 473.86 L1500.05 473.72 L1507.02 473.57 L1513.99 473.43 L1520.96 473.30 L1527.92 473.16 L1534.89 473.03 L1541.86 472.91 L1548.83 472.79 L1555.80 472.67 L1562.77 472.55 L1569.73 472.44 L1576.70 472.33 L1583.67 472.23 L1590.64 472.12 L1597.61 472.02 L1604.58 471.93 L1611.54 471.83 L1618.51 471.74 L1625.48 471.65 L1632.45 471.56 L1639.42 471.47 L1646.39 471.39 L1653.35 471.31 L1660.32 471.23 L1667.29 471.15 L1674.26 471.08 L1681.23 471.00 L1688.20 470.93 L1695.16 470.86 L1702.13 470.79 L1709.10 470.72 L1716.07 470.66 L1723.04 470.60 L1730.01 470.53 L1736.97 470.47 L1743.94 470.41 L1750.91 470.35 L1757.88 470.30 L1764.85 470.24 L1771.82 470.19 L1778.78 470.13 L1785.75 470.08 L1792.72 470.03 L1799.69 469.98 L1806.66 469.93 L1813.63 469.88 L1820.59 469.83 L1827.56 469.79 L1834.53 469.74 L1841.50 469.70" fill="none" stroke="#000000" stroke-width="10" stroke-linecap="round" stroke-linejoin="round"/>
<rect x="303" y="35.5" width="1669" height="1227" fill="none" stroke="#000" stroke-width="12" stroke-linejoin="round"/>
<path d="M303 91.5 H329 M303 203.0 H329 M303 314.5 H329 M303 426.0 H329 M303 537.5 H329 M303 649.0 H329 M303 760.5 H329 M303 872.0 H329 M303 983.5 H329 M303 1095.0 H329 M303 1206.5 H329 M442 1262 V1236 M790 1262 V1236 M1138 1262 V1236 M1485.5 1262 V1236 M1833 1262 V1236" stroke="#000" stroke-width="11" stroke-linecap="round" fill="none"/>
<text transform="translate(134.04 116.11) scale(1.0511 1)" font-family="Liberation Serif, serif" font-weight="normal" font-size="78.52" fill="#000"  stroke="#000" stroke-width="2.6" stroke-linejoin="round">100</text>
<text transform="translate(172.63 231.30) scale(0.9790 1)" font-family="Liberation Serif, serif" font-weight="normal" font-size="79.70" fill="#000"  stroke="#000" stroke-width="2.6" stroke-linejoin="round">80</text>
<text transform="translate(170.89 349.31) scale(1.0103 1)" font-family="Liberation Serif, serif" font-weight="normal" font-size="78.52" fill="#000"  stroke="#000" stroke-width="2.6" stroke-linejoin="round">60</text>
<text transform="translate(170.12 455.91) scale(1.0032 1)" font-family="Liberation Serif, serif" font-weight="normal" font-size="78.52" fill="#000"  stroke="#000" stroke-width="2.6" stroke-linejoin="round">40</text>
<text transform="translate(170.71 565.20) scale(0.9963 1)" font-family="Liberation Serif, serif" font-weight="normal" font-size="79.70" fill="#000"  stroke="#000" stroke-width="2.6" stroke-linejoin="round">20</text>
<text transform="translate(202.23 668.40) scale(0.9795 1)" font-family="Liberation Serif, serif" font-weight="normal" font-size="79.70" fill="#000"  stroke="#000" stroke-width="2.6" stroke-linejoin="round">0</text>
<text transform="translate(170.71 795.61) scale(1.0114 1)" font-family="Liberation Serif, serif" font-weight="normal" font-size="78.52" fill="#000"  stroke="#000" stroke-width="2.6" stroke-linejoin="round">20</text>
<text transform="translate(171.73 905.30) scale(0.9829 1)" font-family="Liberation Serif, serif" font-weight="normal" font-size="79.70" fill="#000"  stroke="#000" stroke-width="2.6" stroke-linejoin="round">40</text>
<text transform="translate(167.96 1013.82) scale(0.9918 1)" font-family="Liberation Serif, serif" font-weight="normal" font-size="78.22" fill="#000"  stroke="#000" stroke-width="2.6" stroke-linejoin="round">60</text>
<text transform="translate(174.57 1117.52) scale(0.9851 1)" font-family="Liberation Serif, serif" font-weight="normal" font-size="78.22" fill="#000"  stroke="#000" stroke-width="2.6" stroke-linejoin="round">80</text>
<text transform="translate(134.41 1228.32) scale(1.0449 1)" font-family="Liberation Serif, serif" font-weight="normal" font-size="78.22" fill="#000"  stroke="#000" stroke-width="2.6" stroke-linejoin="round">100</text>
<text transform="translate(327.43 1357.40) scale(1.0019 1)" font-family="Liberation Serif, serif" font-weight="normal" font-size="80.15" fill="#000"  stroke="#000" stroke-width="2.6" stroke-linejoin="round">10,000</text>
<text transform="translate(712.37 1359.82) scale(1.0225 1)" font-family="Liberation Serif, serif" font-weight="normal" font-size="78.07" fill="#000"  stroke="#000" stroke-width="2.6" stroke-linejoin="round">5000</text>
<text transform="translate(1121.81 1354.71) scale(0.9237 1)" font-family="Liberation Serif, serif" font-weight="normal" font-size="79.41" fill="#000"  stroke="#000" stroke-width="2.6" stroke-linejoin="round">0</text>
<text transform="translate(1404.93 1360.80) scale(1.0052 1)" font-family="Liberation Serif, serif" font-weight="normal" font-size="80.15" fill="#000"  stroke="#000" stroke-width="2.6" stroke-linejoin="round">5000</text>
<text transform="translate(1721.41 1359.72) scale(1.0343 1)" font-family="Liberation Serif, serif" font-weight="normal" font-size="77.93" fill="#000"  stroke="#000" stroke-width="2.6" stroke-linejoin="round">10,000</text>
<text transform="translate(1870.62 177.60) scale(0.9328 1)" font-family="Liberation Serif, serif" font-weight="bold" font-size="79.75" fill="#000" >a</text>
<text transform="translate(1870.60 327.02) scale(0.9812 1)" font-family="Liberation Serif, serif" font-weight="bold" font-size="78.41" fill="#000" >b</text>
<text transform="translate(1869.14 490.25) scale(1.0099 1)" font-family="Liberation Serif, serif" font-weight="bold" font-size="83.33" fill="#000" >c</text>
<text transform="translate(714.42 1473.40) scale(0.9560 1)" font-family="Liberation Serif, serif" font-size="112.73" fill="#000">Applied field(Oe)</text>
<text transform="translate(114.60 1101.33) rotate(-90) scale(0.9632 1)" font-family="Liberation Serif, serif" font-size="111.91" fill="#000">Magnetization(emu/g)</text>
</svg></body></html>
